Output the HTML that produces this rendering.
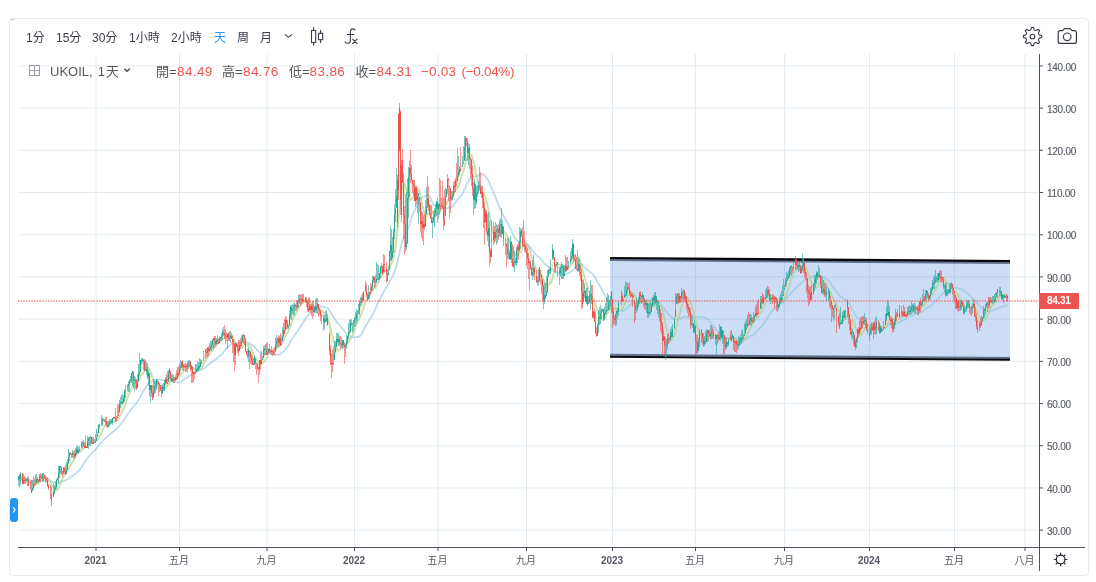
<!DOCTYPE html>
<html lang="zh-Hant"><head><meta charset="utf-8"><title>UKOIL</title>
<style>
html,body{margin:0;padding:0;background:#fff;}
body{width:1096px;height:582px;position:relative;overflow:hidden;font-family:"Liberation Sans","Noto Sans CJK TC",sans-serif;}
.frame{position:absolute;left:9px;top:18px;width:1078px;height:556px;border:1px solid #e8eaef;border-radius:4px;box-sizing:content-box;}
.chart{position:absolute;left:0;top:0;}
.txt{position:absolute;left:0;top:0;width:1096px;height:582px;will-change:transform;}
.tb{position:absolute;top:30px;height:16px;line-height:16px;font-size:12px;color:#3a3d48;white-space:nowrap;}
.tb.act{color:#2196f3;}
.lg{position:absolute;top:63px;height:18px;line-height:18px;font-size:13px;color:#555;white-space:nowrap;}
.lg.r{color:#ef5350;font-size:13.5px;letter-spacing:0.4px;}
.pl{position:absolute;left:1047px;width:40px;height:12px;line-height:12px;font-size:10px;letter-spacing:-0.25px;color:#585c66;-webkit-text-stroke:0.15px #585c66;}
.tl{position:absolute;top:554px;width:40px;height:13px;line-height:13px;text-align:center;font-size:10px;color:#555a64;}
.tl.b{font-weight:bold;}
.plab{position:absolute;left:1039px;top:293px;width:40px;height:15.5px;background:#ee5451;color:#fff;font-size:10px;letter-spacing:-0.3px;font-weight:bold;line-height:16px;}
.plab span{display:inline-block;margin-left:8px;}
.side{position:absolute;left:10px;top:498px;width:8px;height:24px;background:#2196f3;border-radius:3px;color:#fff;font-size:9px;line-height:23px;text-align:center;}
</style></head><body>
<div class="frame"></div>
<svg class="chart" width="1096" height="582" viewBox="0 0 1096 582"><path d="M18 530.15H1038M18 487.95H1038M18 445.75H1038M18 403.55H1038M18 361.35H1038M18 319.15H1038M18 276.95H1038M18 234.75H1038M18 192.55H1038M18 150.35H1038M18 108.15H1038M18 65.95H1038" stroke="#e1ecf2" stroke-width="1" fill="none"/><path d="M96.0 54V547M179.5 54V547M267.0 54V547M354.5 54V547M438.0 54V547M526.5 54V547M612.5 54V547M695.5 54V547M784.5 54V547M869.5 54V547M954.5 54V547M1025.0 54V547" stroke="#e1ecf2" stroke-width="1" fill="none"/><polygon points="610,258 1010,261.1 1010,359.9 610,356.8" fill="#3c78dc" fill-opacity="0.25"/><path d="M610 260.05L1010 263.15" stroke="#1c2a4a" stroke-opacity="0.6" stroke-width="1.8" fill="none"/><path d="M610 354.8L1010 357.9" stroke="#1c2a4a" stroke-opacity="0.6" stroke-width="2" fill="none"/><path d="M610 258.05L1010 261.15" stroke="#08080c" stroke-width="2.3" fill="none"/><path d="M610 356.75L1010 359.85" stroke="#08080c" stroke-width="2" fill="none"/><polyline points="18.5,480.5 19.5,480.2 20.5,479.7 21.5,479.3 22.5,479.1 23.5,479.1 24.5,479.2 25.5,479.3 26.5,479.4 27.5,479.6 28.5,479.8 29.5,480.1 30.5,480.5 31.5,480.9 32.5,481.2 33.5,481.3 34.5,481.2 35.5,481.1 36.5,481.0 37.5,480.8 38.5,480.7 39.5,480.5 40.5,480.4 41.5,480.3 42.5,480.2 43.5,480.1 44.5,480.0 45.5,480.0 46.5,479.9 47.5,480.0 48.5,480.2 49.5,480.4 50.5,480.8 51.5,481.3 52.5,481.8 53.5,482.1 54.5,482.4 55.5,482.7 56.5,482.8 57.5,482.9 58.5,482.8 59.5,482.6 60.5,482.3 61.5,481.9 62.5,481.5 63.5,481.1 64.5,480.6 65.5,480.2 66.5,479.9 67.5,479.4 68.5,478.8 69.5,478.1 70.5,477.4 71.5,476.6 72.5,475.9 73.5,475.2 74.5,474.5 75.5,473.7 76.5,472.8 77.5,471.9 78.5,470.9 79.5,469.8 80.5,468.6 81.5,467.3 82.5,465.8 83.5,464.2 84.5,462.6 85.5,461.1 86.5,459.7 87.5,458.3 88.5,457.0 89.5,455.7 90.5,454.6 91.5,453.6 92.5,452.6 93.5,451.6 94.5,450.6 95.5,449.5 96.5,448.4 97.5,447.1 98.5,445.9 99.5,444.6 100.5,443.4 101.5,442.3 102.5,441.2 103.5,440.2 104.5,439.2 105.5,438.2 106.5,437.2 107.5,436.3 108.5,435.4 109.5,434.6 110.5,433.8 111.5,432.9 112.5,432.2 113.5,431.4 114.5,430.6 115.5,429.8 116.5,428.9 117.5,427.9 118.5,426.9 119.5,425.7 120.5,424.5 121.5,423.2 122.5,421.9 123.5,420.6 124.5,419.1 125.5,417.6 126.5,416.1 127.5,414.6 128.5,413.1 129.5,411.6 130.5,410.2 131.5,408.9 132.5,407.6 133.5,406.3 134.5,405.1 135.5,404.0 136.5,402.8 137.5,401.6 138.5,400.0 139.5,398.3 140.5,396.4 141.5,394.6 142.5,392.8 143.5,391.0 144.5,389.3 145.5,387.5 146.5,385.9 147.5,384.5 148.5,383.3 149.5,382.4 150.5,381.8 151.5,381.4 152.5,381.0 153.5,380.6 154.5,380.2 155.5,379.8 156.5,379.5 157.5,379.4 158.5,379.3 159.5,379.4 160.5,379.5 161.5,379.7 162.5,379.9 163.5,380.2 164.5,380.4 165.5,380.4 166.5,380.3 167.5,380.1 168.5,379.9 169.5,379.6 170.5,379.7 171.5,380.1 172.5,380.6 173.5,381.0 174.5,381.5 175.5,381.8 176.5,382.1 177.5,382.3 178.5,382.4 179.5,382.3 180.5,382.0 181.5,381.4 182.5,380.7 183.5,379.8 184.5,379.1 185.5,378.4 186.5,377.8 187.5,377.2 188.5,376.5 189.5,375.9 190.5,375.2 191.5,374.7 192.5,374.1 193.5,373.7 194.5,373.2 195.5,372.6 196.5,372.0 197.5,371.5 198.5,371.1 199.5,370.7 200.5,370.2 201.5,369.7 202.5,369.1 203.5,368.4 204.5,367.7 205.5,366.9 206.5,366.1 207.5,365.4 208.5,364.6 209.5,363.9 210.5,363.1 211.5,362.4 212.5,361.8 213.5,361.1 214.5,360.4 215.5,359.6 216.5,358.8 217.5,358.0 218.5,357.1 219.5,356.2 220.5,355.3 221.5,354.3 222.5,353.3 223.5,352.1 224.5,350.8 225.5,349.5 226.5,348.5 227.5,347.6 228.5,346.7 229.5,345.8 230.5,344.9 231.5,344.1 232.5,343.6 233.5,343.4 234.5,343.4 235.5,343.4 236.5,343.4 237.5,343.3 238.5,343.1 239.5,342.9 240.5,342.6 241.5,342.4 242.5,342.2 243.5,341.9 244.5,341.8 245.5,341.8 246.5,342.1 247.5,342.4 248.5,342.9 249.5,343.5 250.5,344.1 251.5,344.7 252.5,345.4 253.5,346.1 254.5,346.9 255.5,347.9 256.5,349.1 257.5,350.2 258.5,351.2 259.5,352.1 260.5,352.8 261.5,353.4 262.5,353.9 263.5,354.4 264.5,354.5 265.5,354.5 266.5,354.2 267.5,354.0 268.5,353.8 269.5,353.7 270.5,353.8 271.5,353.9 272.5,354.2 273.5,354.4 274.5,354.7 275.5,354.9 276.5,354.9 277.5,354.8 278.5,354.5 279.5,354.2 280.5,353.7 281.5,353.0 282.5,352.2 283.5,351.4 284.5,350.4 285.5,349.2 286.5,348.0 287.5,346.6 288.5,345.2 289.5,343.5 290.5,341.7 291.5,339.9 292.5,338.3 293.5,336.9 294.5,335.4 295.5,334.0 296.5,332.6 297.5,331.2 298.5,329.7 299.5,328.2 300.5,326.7 301.5,325.2 302.5,323.6 303.5,322.0 304.5,320.4 305.5,318.9 306.5,317.4 307.5,316.2 308.5,315.0 309.5,313.8 310.5,312.7 311.5,311.7 312.5,310.8 313.5,309.9 314.5,309.1 315.5,308.3 316.5,307.7 317.5,307.2 318.5,306.8 319.5,306.5 320.5,306.3 321.5,306.3 322.5,306.5 323.5,306.8 324.5,307.2 325.5,307.4 326.5,307.7 327.5,308.1 328.5,309.0 329.5,310.2 330.5,311.9 331.5,313.8 332.5,315.6 333.5,317.3 334.5,318.9 335.5,320.3 336.5,321.6 337.5,322.8 338.5,324.0 339.5,325.2 340.5,326.4 341.5,327.6 342.5,328.8 343.5,329.9 344.5,331.2 345.5,332.5 346.5,333.6 347.5,334.5 348.5,335.3 349.5,335.9 350.5,336.4 351.5,336.7 352.5,337.1 353.5,337.3 354.5,337.4 355.5,337.3 356.5,337.1 357.5,337.0 358.5,336.9 359.5,336.4 360.5,335.5 361.5,334.2 362.5,332.5 363.5,330.4 364.5,328.3 365.5,326.3 366.5,324.4 367.5,322.8 368.5,321.3 369.5,319.9 370.5,318.2 371.5,316.5 372.5,314.6 373.5,312.7 374.5,310.8 375.5,308.7 376.5,306.4 377.5,303.9 378.5,301.8 379.5,299.8 380.5,297.9 381.5,296.2 382.5,294.3 383.5,292.4 384.5,290.5 385.5,288.6 386.5,287.0 387.5,285.5 388.5,283.9 389.5,282.2 390.5,280.3 391.5,278.3 392.5,276.3 393.5,274.3 394.5,271.9 395.5,268.8 396.5,265.5 397.5,261.8 398.5,257.7 399.5,253.0 400.5,248.2 401.5,243.9 402.5,240.7 403.5,238.2 404.5,236.1 405.5,234.1 406.5,232.0 407.5,229.8 408.5,227.4 409.5,224.6 410.5,221.5 411.5,218.4 412.5,215.4 413.5,212.8 414.5,210.6 415.5,208.5 416.5,206.5 417.5,204.6 418.5,202.7 419.5,200.8 420.5,199.3 421.5,198.3 422.5,197.6 423.5,197.1 424.5,196.5 425.5,195.9 426.5,195.1 427.5,195.0 428.5,195.3 429.5,196.3 430.5,197.9 431.5,200.1 432.5,202.7 433.5,204.7 434.5,205.7 435.5,206.0 436.5,206.0 437.5,205.7 438.5,205.4 439.5,205.1 440.5,204.9 441.5,205.3 442.5,205.9 443.5,207.0 444.5,207.9 445.5,208.4 446.5,208.4 447.5,208.2 448.5,207.9 449.5,207.7 450.5,207.5 451.5,206.9 452.5,206.2 453.5,205.1 454.5,203.8 455.5,202.4 456.5,200.9 457.5,199.4 458.5,198.3 459.5,197.5 460.5,196.4 461.5,195.0 462.5,193.4 463.5,191.5 464.5,189.3 465.5,187.0 466.5,184.9 467.5,182.9 468.5,181.0 469.5,179.3 470.5,178.0 471.5,177.2 472.5,176.8 473.5,176.8 474.5,176.8 475.5,176.6 476.5,176.2 477.5,175.7 478.5,175.3 479.5,175.0 480.5,174.7 481.5,174.3 482.5,174.2 483.5,174.7 484.5,175.6 485.5,176.7 486.5,177.8 487.5,179.2 488.5,180.9 489.5,183.0 490.5,185.5 491.5,187.7 492.5,190.0 493.5,192.3 494.5,194.7 495.5,197.1 496.5,199.7 497.5,202.4 498.5,205.0 499.5,207.4 500.5,209.8 501.5,211.8 502.5,213.9 503.5,215.9 504.5,217.8 505.5,219.5 506.5,221.2 507.5,222.9 508.5,224.7 509.5,226.7 510.5,228.7 511.5,230.9 512.5,233.2 513.5,235.4 514.5,237.3 515.5,238.9 516.5,239.9 517.5,240.8 518.5,241.5 519.5,242.0 520.5,242.3 521.5,242.4 522.5,242.2 523.5,242.1 524.5,242.4 525.5,242.9 526.5,243.7 527.5,244.5 528.5,245.5 529.5,246.7 530.5,248.0 531.5,249.3 532.5,250.6 533.5,252.0 534.5,253.2 535.5,254.3 536.5,255.2 537.5,256.1 538.5,256.9 539.5,257.7 540.5,258.5 541.5,259.6 542.5,260.9 543.5,262.3 544.5,263.5 545.5,264.6 546.5,265.4 547.5,266.1 548.5,266.7 549.5,267.2 550.5,267.8 551.5,268.5 552.5,269.0 553.5,269.7 554.5,270.5 555.5,271.5 556.5,272.3 557.5,272.9 558.5,273.4 559.5,273.9 560.5,274.1 561.5,274.1 562.5,274.0 563.5,274.1 564.5,274.0 565.5,273.9 566.5,273.7 567.5,273.5 568.5,273.1 569.5,272.6 570.5,272.0 571.5,271.3 572.5,270.4 573.5,269.5 574.5,268.4 575.5,267.3 576.5,266.3 577.5,265.4 578.5,264.7 579.5,264.2 580.5,264.1 581.5,264.5 582.5,265.3 583.5,266.2 584.5,267.2 585.5,268.2 586.5,269.2 587.5,270.1 588.5,271.0 589.5,271.7 590.5,272.4 591.5,273.1 592.5,273.9 593.5,275.2 594.5,276.6 595.5,278.2 596.5,280.0 597.5,282.0 598.5,283.8 599.5,285.5 600.5,287.2 601.5,289.0 602.5,290.8 603.5,292.7 604.5,294.7 605.5,296.4 606.5,297.9 607.5,299.3 608.5,300.5 609.5,301.8 610.5,303.1 611.5,304.2 612.5,305.4 613.5,306.5 614.5,307.3 615.5,308.3 616.5,309.1 617.5,309.8 618.5,310.2 619.5,310.5 620.5,310.7 621.5,310.9 622.5,310.9 623.5,310.8 624.5,310.4 625.5,309.7 626.5,308.8 627.5,307.8 628.5,306.6 629.5,305.4 630.5,304.5 631.5,303.9 632.5,303.4 633.5,303.0 634.5,302.8 635.5,302.7 636.5,302.5 637.5,302.4 638.5,302.2 639.5,302.1 640.5,302.0 641.5,301.8 642.5,301.7 643.5,301.6 644.5,301.5 645.5,301.1 646.5,300.7 647.5,300.3 648.5,300.1 649.5,300.0 650.5,300.0 651.5,300.0 652.5,300.1 653.5,300.2 654.5,300.4 655.5,300.6 656.5,301.0 657.5,301.6 658.5,302.2 659.5,303.0 660.5,303.9 661.5,305.1 662.5,306.5 663.5,307.9 664.5,309.3 665.5,310.7 666.5,311.9 667.5,312.9 668.5,313.9 669.5,314.9 670.5,315.9 671.5,317.0 672.5,318.0 673.5,318.9 674.5,319.5 675.5,319.7 676.5,319.5 677.5,319.3 678.5,319.1 679.5,318.7 680.5,318.3 681.5,317.8 682.5,317.4 683.5,317.1 684.5,316.8 685.5,316.7 686.5,316.8 687.5,317.0 688.5,317.2 689.5,317.4 690.5,317.6 691.5,317.9 692.5,317.9 693.5,317.9 694.5,317.6 695.5,317.4 696.5,317.3 697.5,317.2 698.5,317.0 699.5,316.9 700.5,316.9 701.5,316.8 702.5,317.0 703.5,317.2 704.5,317.5 705.5,317.8 706.5,318.4 707.5,319.2 708.5,320.4 709.5,321.5 710.5,322.6 711.5,323.7 712.5,324.8 713.5,326.0 714.5,327.3 715.5,328.7 716.5,330.2 717.5,331.5 718.5,332.7 719.5,333.6 720.5,334.3 721.5,335.0 722.5,335.7 723.5,336.3 724.5,337.0 725.5,337.6 726.5,338.1 727.5,338.3 728.5,338.2 729.5,338.0 730.5,337.8 731.5,337.7 732.5,337.8 733.5,338.0 734.5,338.2 735.5,338.4 736.5,338.7 737.5,339.0 738.5,339.1 739.5,339.3 740.5,339.4 741.5,339.4 742.5,339.4 743.5,339.4 744.5,339.4 745.5,339.1 746.5,338.8 747.5,338.3 748.5,337.5 749.5,336.7 750.5,336.1 751.5,335.6 752.5,335.2 753.5,334.7 754.5,334.0 755.5,333.0 756.5,332.0 757.5,330.9 758.5,329.7 759.5,328.6 760.5,327.4 761.5,326.3 762.5,325.1 763.5,323.9 764.5,322.5 765.5,321.0 766.5,319.3 767.5,317.7 768.5,316.0 769.5,314.3 770.5,313.0 771.5,311.7 772.5,310.5 773.5,309.4 774.5,308.4 775.5,307.5 776.5,306.8 777.5,306.1 778.5,305.5 779.5,304.9 780.5,304.3 781.5,303.6 782.5,302.7 783.5,301.7 784.5,300.6 785.5,299.4 786.5,298.2 787.5,297.1 788.5,296.0 789.5,294.9 790.5,293.8 791.5,292.7 792.5,291.7 793.5,290.6 794.5,289.5 795.5,288.4 796.5,287.4 797.5,286.5 798.5,285.7 799.5,284.9 800.5,284.1 801.5,283.3 802.5,282.1 803.5,281.1 804.5,280.1 805.5,279.3 806.5,278.7 807.5,278.4 808.5,278.1 809.5,277.8 810.5,277.4 811.5,277.1 812.5,276.8 813.5,276.5 814.5,276.3 815.5,276.0 816.5,275.8 817.5,275.7 818.5,275.5 819.5,275.4 820.5,275.6 821.5,275.9 822.5,276.4 823.5,276.9 824.5,277.6 825.5,278.4 826.5,279.3 827.5,280.2 828.5,281.2 829.5,282.2 830.5,283.3 831.5,284.7 832.5,286.1 833.5,287.6 834.5,289.2 835.5,290.6 836.5,292.0 837.5,293.4 838.5,294.7 839.5,295.6 840.5,296.3 841.5,296.9 842.5,297.6 843.5,298.3 844.5,299.1 845.5,300.0 846.5,301.0 847.5,301.9 848.5,303.1 849.5,304.6 850.5,306.2 851.5,308.0 852.5,309.8 853.5,311.5 854.5,313.2 855.5,314.9 856.5,316.4 857.5,317.9 858.5,319.1 859.5,320.2 860.5,321.1 861.5,321.9 862.5,322.5 863.5,322.9 864.5,323.1 865.5,323.3 866.5,323.7 867.5,324.2 868.5,324.6 869.5,324.9 870.5,325.2 871.5,325.5 872.5,325.9 873.5,326.3 874.5,326.7 875.5,327.1 876.5,327.3 877.5,327.6 878.5,328.1 879.5,328.7 880.5,329.0 881.5,329.2 882.5,329.1 883.5,328.8 884.5,328.3 885.5,327.7 886.5,326.8 887.5,325.9 888.5,324.9 889.5,324.2 890.5,323.7 891.5,323.6 892.5,323.6 893.5,323.6 894.5,323.6 895.5,323.5 896.5,323.3 897.5,323.1 898.5,322.7 899.5,322.3 900.5,321.7 901.5,321.1 902.5,320.4 903.5,319.8 904.5,319.3 905.5,318.7 906.5,318.2 907.5,317.7 908.5,317.2 909.5,316.8 910.5,316.2 911.5,315.6 912.5,315.0 913.5,314.4 914.5,313.9 915.5,313.5 916.5,313.1 917.5,312.9 918.5,312.8 919.5,312.7 920.5,312.6 921.5,312.2 922.5,311.6 923.5,310.8 924.5,309.9 925.5,308.9 926.5,308.1 927.5,307.4 928.5,306.9 929.5,306.3 930.5,305.7 931.5,305.0 932.5,304.2 933.5,303.4 934.5,302.4 935.5,301.4 936.5,300.3 937.5,299.2 938.5,298.1 939.5,297.0 940.5,295.9 941.5,294.9 942.5,293.9 943.5,293.1 944.5,292.4 945.5,291.8 946.5,291.2 947.5,290.6 948.5,290.0 949.5,289.4 950.5,288.7 951.5,288.0 952.5,287.6 953.5,287.4 954.5,287.4 955.5,287.5 956.5,287.8 957.5,288.1 958.5,288.5 959.5,288.8 960.5,289.1 961.5,289.4 962.5,289.8 963.5,290.4 964.5,291.1 965.5,291.8 966.5,292.6 967.5,293.4 968.5,294.4 969.5,295.4 970.5,296.4 971.5,297.5 972.5,298.5 973.5,299.4 974.5,300.3 975.5,301.3 976.5,302.4 977.5,303.6 978.5,304.7 979.5,305.9 980.5,306.9 981.5,307.8 982.5,308.7 983.5,309.5 984.5,310.2 985.5,310.6 986.5,310.9 987.5,311.0 988.5,311.0 989.5,310.9 990.5,310.8 991.5,310.6 992.5,310.4 993.5,310.2 994.5,309.9 995.5,309.6 996.5,309.2 997.5,308.7 998.5,308.3 999.5,307.9 1000.5,307.4 1001.5,307.0 1002.5,306.6 1003.5,306.2 1004.5,305.8 1005.5,305.6 1006.5,305.3 1007.5,304.8" fill="none" stroke="#8cc3dc" stroke-width="1.8" stroke-linejoin="round" stroke-opacity="0.58"/><polyline points="18.5,478.3 19.5,478.9 20.5,478.1 21.5,477.3 22.5,478.1 23.5,478.4 24.5,478.7 25.5,478.9 26.5,479.0 27.5,479.2 28.5,479.8 29.5,480.3 30.5,481.4 31.5,482.9 32.5,483.4 33.5,483.8 34.5,484.1 35.5,484.2 36.5,484.0 37.5,483.8 38.5,483.3 39.5,482.4 40.5,481.5 41.5,480.3 42.5,479.2 43.5,478.4 44.5,477.9 45.5,477.7 46.5,477.8 47.5,478.3 48.5,479.1 49.5,480.6 50.5,482.2 51.5,484.3 52.5,486.4 53.5,487.9 54.5,489.0 55.5,489.8 56.5,490.0 57.5,489.7 58.5,488.5 59.5,486.3 60.5,483.9 61.5,481.3 62.5,478.8 63.5,476.7 64.5,474.9 65.5,473.4 66.5,472.1 67.5,470.4 68.5,468.7 69.5,467.1 70.5,465.6 71.5,463.8 72.5,461.9 73.5,460.3 74.5,458.8 75.5,456.9 76.5,454.9 77.5,453.7 78.5,452.9 79.5,452.4 80.5,451.6 81.5,450.7 82.5,449.7 83.5,448.8 84.5,447.8 85.5,447.0 86.5,446.5 87.5,445.6 88.5,444.7 89.5,443.8 90.5,443.0 91.5,442.7 92.5,442.6 93.5,442.2 94.5,441.7 95.5,441.3 96.5,440.4 97.5,439.6 98.5,438.0 99.5,436.5 100.5,435.0 101.5,433.0 102.5,430.7 103.5,428.6 104.5,426.7 105.5,424.8 106.5,423.6 107.5,422.8 108.5,422.5 109.5,422.3 110.5,422.1 111.5,422.2 112.5,422.2 113.5,422.1 114.5,421.8 115.5,421.5 116.5,420.9 117.5,419.8 118.5,418.7 119.5,416.9 120.5,415.0 121.5,413.1 122.5,411.2 123.5,409.1 124.5,406.5 125.5,403.8 126.5,400.9 127.5,398.2 128.5,395.5 129.5,393.3 130.5,391.1 131.5,388.6 132.5,386.0 133.5,384.3 134.5,383.1 135.5,382.1 136.5,381.9 137.5,381.4 138.5,380.2 139.5,378.9 140.5,376.9 141.5,375.5 142.5,374.2 143.5,372.5 144.5,371.1 145.5,369.7 146.5,367.9 147.5,367.1 148.5,367.2 149.5,369.0 150.5,371.5 151.5,374.5 152.5,377.7 153.5,380.4 154.5,382.3 155.5,384.2 156.5,385.6 157.5,386.7 158.5,387.9 159.5,387.9 160.5,388.3 161.5,388.2 162.5,387.6 163.5,387.5 164.5,387.2 165.5,386.5 166.5,386.3 167.5,385.9 168.5,384.7 169.5,383.1 170.5,381.8 171.5,380.6 172.5,379.7 173.5,378.8 174.5,378.3 175.5,378.0 176.5,377.6 177.5,376.8 178.5,376.6 179.5,376.3 180.5,375.2 181.5,373.6 182.5,372.2 183.5,370.9 184.5,369.6 185.5,368.6 186.5,367.5 187.5,366.8 188.5,366.1 189.5,365.6 190.5,365.8 191.5,366.4 192.5,367.2 193.5,368.1 194.5,368.7 195.5,369.2 196.5,369.3 197.5,369.6 198.5,369.7 199.5,369.8 200.5,369.1 201.5,368.3 202.5,366.3 203.5,364.3 204.5,362.2 205.5,360.4 206.5,358.9 207.5,357.1 208.5,355.6 209.5,353.9 210.5,352.5 211.5,350.9 212.5,349.7 213.5,348.4 214.5,347.3 215.5,346.2 216.5,344.9 217.5,344.1 218.5,343.1 219.5,342.1 220.5,341.2 221.5,340.2 222.5,339.3 223.5,338.6 224.5,337.8 225.5,337.2 226.5,337.1 227.5,336.7 228.5,336.5 229.5,336.4 230.5,336.3 231.5,336.5 232.5,337.5 233.5,338.9 234.5,341.1 235.5,342.4 236.5,343.6 237.5,344.8 238.5,345.9 239.5,346.6 240.5,347.4 241.5,347.7 242.5,347.1 243.5,346.0 244.5,344.4 245.5,344.3 246.5,344.5 247.5,344.8 248.5,345.0 249.5,346.1 250.5,347.5 251.5,349.4 252.5,351.8 253.5,354.3 254.5,356.2 255.5,357.8 256.5,359.2 257.5,360.8 258.5,362.8 259.5,363.7 260.5,364.1 261.5,363.9 262.5,363.4 263.5,362.3 264.5,361.4 265.5,360.0 266.5,358.6 267.5,356.8 268.5,354.5 269.5,353.0 270.5,351.9 271.5,351.1 272.5,350.6 273.5,350.7 274.5,350.8 275.5,350.2 276.5,349.1 277.5,348.0 278.5,347.3 279.5,346.3 280.5,345.4 281.5,344.4 282.5,342.9 283.5,340.7 284.5,338.6 285.5,336.3 286.5,334.4 287.5,332.9 288.5,331.1 289.5,328.9 290.5,325.7 291.5,322.8 292.5,320.2 293.5,318.1 294.5,315.8 295.5,314.3 296.5,312.6 297.5,310.5 298.5,308.2 299.5,306.5 300.5,305.4 301.5,304.2 302.5,303.2 303.5,302.3 304.5,301.4 305.5,300.8 306.5,300.3 307.5,300.6 308.5,301.3 309.5,301.8 310.5,302.6 311.5,303.3 312.5,304.3 313.5,305.4 314.5,306.2 315.5,307.0 316.5,307.4 317.5,307.3 318.5,307.5 319.5,308.3 320.5,309.0 321.5,310.0 322.5,311.0 323.5,312.1 324.5,313.5 325.5,314.7 326.5,315.8 327.5,317.6 328.5,320.0 329.5,323.5 330.5,327.9 331.5,332.4 332.5,336.7 333.5,340.3 334.5,343.4 335.5,346.0 336.5,348.3 337.5,350.1 338.5,350.7 339.5,350.2 340.5,348.6 341.5,346.7 342.5,344.7 343.5,343.4 344.5,343.1 345.5,343.3 346.5,343.4 347.5,343.0 348.5,342.1 349.5,340.9 350.5,339.0 351.5,337.1 352.5,335.4 353.5,333.2 354.5,330.4 355.5,327.5 356.5,324.9 357.5,322.7 358.5,320.6 359.5,318.2 360.5,316.0 361.5,313.6 362.5,311.0 363.5,308.1 364.5,305.0 365.5,302.1 366.5,299.8 367.5,298.1 368.5,296.3 369.5,295.1 370.5,293.9 371.5,292.5 372.5,290.7 373.5,289.2 374.5,288.4 375.5,287.5 376.5,285.9 377.5,283.9 378.5,282.0 379.5,280.0 380.5,277.9 381.5,276.0 382.5,274.9 383.5,273.4 384.5,271.7 385.5,270.4 386.5,270.0 387.5,270.1 388.5,269.5 389.5,267.7 390.5,265.5 391.5,263.9 392.5,261.6 393.5,258.5 394.5,254.0 395.5,247.6 396.5,239.4 397.5,229.3 398.5,219.9 399.5,206.9 400.5,199.1 401.5,192.4 402.5,186.2 403.5,183.8 404.5,183.7 405.5,186.7 406.5,190.6 407.5,193.4 408.5,194.7 409.5,199.7 410.5,200.2 411.5,199.2 412.5,198.9 413.5,196.5 414.5,194.4 415.5,190.4 416.5,187.5 417.5,187.2 418.5,188.5 419.5,191.6 420.5,196.3 421.5,201.0 422.5,205.7 423.5,209.7 424.5,212.4 425.5,214.5 426.5,214.9 427.5,214.3 428.5,214.4 429.5,214.6 430.5,213.8 431.5,213.4 432.5,212.7 433.5,212.1 434.5,211.1 435.5,210.9 436.5,211.3 437.5,212.6 438.5,213.0 439.5,212.4 440.5,211.2 441.5,209.4 442.5,207.5 443.5,206.7 444.5,206.9 445.5,205.6 446.5,204.1 447.5,201.6 448.5,199.7 449.5,198.8 450.5,198.6 451.5,198.3 452.5,197.6 453.5,195.1 454.5,192.1 455.5,190.4 456.5,189.1 457.5,187.7 458.5,186.0 459.5,183.4 460.5,180.1 461.5,176.7 462.5,173.4 463.5,170.5 464.5,166.7 465.5,162.9 466.5,159.6 467.5,157.6 468.5,155.7 469.5,154.8 470.5,154.4 471.5,155.4 472.5,157.8 473.5,161.5 474.5,165.5 475.5,171.2 476.5,176.0 477.5,179.7 478.5,183.2 479.5,185.7 480.5,188.3 481.5,189.9 482.5,191.2 483.5,192.4 484.5,195.8 485.5,197.6 486.5,201.0 487.5,205.2 488.5,209.6 489.5,215.6 490.5,221.8 491.5,227.1 492.5,231.0 493.5,233.4 494.5,234.7 495.5,236.1 496.5,236.6 497.5,236.6 498.5,237.0 499.5,235.4 500.5,233.0 501.5,231.5 502.5,230.6 503.5,231.1 504.5,231.9 505.5,233.2 506.5,234.9 507.5,237.0 508.5,239.0 509.5,241.8 510.5,243.8 511.5,246.4 512.5,249.6 513.5,251.9 514.5,253.7 515.5,255.2 516.5,255.6 517.5,255.2 518.5,254.8 519.5,253.5 520.5,252.5 521.5,250.7 522.5,248.8 523.5,246.8 524.5,245.1 525.5,244.1 526.5,244.2 527.5,245.1 528.5,246.7 529.5,249.2 530.5,252.7 531.5,256.3 532.5,259.2 533.5,262.1 534.5,264.8 535.5,267.1 536.5,269.5 537.5,271.5 538.5,272.9 539.5,273.4 540.5,273.8 541.5,274.6 542.5,276.3 543.5,279.4 544.5,281.6 545.5,283.7 546.5,284.8 547.5,284.9 548.5,284.3 549.5,284.2 550.5,283.5 551.5,281.5 552.5,277.9 553.5,273.9 554.5,271.0 555.5,268.0 556.5,265.7 557.5,264.4 558.5,264.3 559.5,264.6 560.5,265.0 561.5,265.9 562.5,267.4 563.5,269.0 564.5,269.6 565.5,269.6 566.5,269.8 567.5,269.7 568.5,268.9 569.5,267.5 570.5,266.2 571.5,264.8 572.5,262.6 573.5,260.8 574.5,259.5 575.5,259.5 576.5,259.3 577.5,259.4 578.5,259.4 579.5,260.3 580.5,261.8 581.5,264.9 582.5,270.1 583.5,273.7 584.5,276.9 585.5,280.2 586.5,283.2 587.5,286.6 588.5,290.1 589.5,292.5 590.5,294.7 591.5,295.8 592.5,296.9 593.5,298.9 594.5,301.9 595.5,305.0 596.5,308.6 597.5,311.1 598.5,313.2 599.5,315.6 600.5,317.6 601.5,319.1 602.5,319.4 603.5,320.0 604.5,319.3 605.5,317.5 606.5,315.1 607.5,313.2 608.5,311.5 609.5,309.8 610.5,308.4 611.5,306.9 612.5,306.6 613.5,306.8 614.5,307.4 615.5,308.1 616.5,308.8 617.5,309.4 618.5,309.8 619.5,310.0 620.5,310.0 621.5,310.0 622.5,308.7 623.5,306.6 624.5,303.9 625.5,301.4 626.5,299.0 627.5,296.5 628.5,294.8 629.5,293.6 630.5,293.0 631.5,292.9 632.5,292.9 633.5,293.2 634.5,294.7 635.5,296.4 636.5,298.2 637.5,299.9 638.5,301.1 639.5,301.4 640.5,301.6 641.5,301.8 642.5,301.7 643.5,301.7 644.5,301.1 645.5,300.6 646.5,300.4 647.5,301.0 648.5,302.1 649.5,303.7 650.5,305.1 651.5,305.9 652.5,306.3 653.5,306.4 654.5,305.9 655.5,305.5 656.5,305.0 657.5,304.3 658.5,303.8 659.5,304.0 660.5,305.1 661.5,307.2 662.5,310.9 663.5,314.7 664.5,319.4 665.5,324.1 666.5,328.7 667.5,332.3 668.5,335.6 669.5,338.1 670.5,339.3 671.5,340.1 672.5,339.2 673.5,338.0 674.5,335.5 675.5,331.8 676.5,326.9 677.5,322.5 678.5,318.5 679.5,314.4 680.5,310.9 681.5,306.8 682.5,303.2 683.5,299.7 684.5,297.5 685.5,296.3 686.5,296.9 687.5,298.0 688.5,298.9 689.5,300.5 690.5,302.8 691.5,305.7 692.5,308.7 693.5,312.3 694.5,315.2 695.5,319.2 696.5,323.1 697.5,327.2 698.5,330.7 699.5,332.9 700.5,334.2 701.5,335.4 702.5,336.9 703.5,338.2 704.5,339.5 705.5,339.6 706.5,338.9 707.5,337.3 708.5,336.5 709.5,336.6 710.5,336.7 711.5,336.4 712.5,335.8 713.5,335.1 714.5,334.7 715.5,334.6 716.5,335.1 717.5,335.8 718.5,336.2 719.5,336.2 720.5,335.8 721.5,336.2 722.5,336.3 723.5,336.5 724.5,337.4 725.5,338.0 726.5,338.4 727.5,338.6 728.5,338.7 729.5,338.7 730.5,339.6 731.5,339.7 732.5,340.0 733.5,340.7 734.5,340.7 735.5,340.4 736.5,340.7 737.5,341.1 738.5,341.5 739.5,341.8 740.5,341.8 741.5,341.9 742.5,341.8 743.5,341.0 744.5,339.8 745.5,338.1 746.5,336.0 747.5,333.7 748.5,331.6 749.5,329.6 750.5,327.7 751.5,325.9 752.5,324.3 753.5,322.7 754.5,321.1 755.5,319.8 756.5,318.6 757.5,317.3 758.5,316.1 759.5,314.7 760.5,313.1 761.5,311.0 762.5,309.0 763.5,306.9 764.5,305.1 765.5,303.4 766.5,301.5 767.5,299.5 768.5,297.8 769.5,296.9 770.5,296.5 771.5,296.4 772.5,296.3 773.5,296.5 774.5,296.9 775.5,297.3 776.5,298.2 777.5,299.7 778.5,300.9 779.5,301.4 780.5,301.4 781.5,301.4 782.5,300.9 783.5,300.1 784.5,298.6 785.5,296.7 786.5,294.3 787.5,291.4 788.5,288.5 789.5,285.4 790.5,282.3 791.5,279.3 792.5,276.6 793.5,274.1 794.5,272.0 795.5,270.1 796.5,268.7 797.5,267.6 798.5,266.6 799.5,266.2 800.5,266.4 801.5,266.3 802.5,265.8 803.5,265.5 804.5,266.1 805.5,267.4 806.5,269.0 807.5,271.4 808.5,274.2 809.5,277.0 810.5,279.6 811.5,282.1 812.5,284.9 813.5,287.3 814.5,288.5 815.5,288.8 816.5,288.3 817.5,286.7 818.5,284.8 819.5,282.8 820.5,281.3 821.5,280.9 822.5,280.5 823.5,280.7 824.5,281.6 825.5,283.0 826.5,284.7 827.5,286.5 828.5,288.5 829.5,290.8 830.5,292.7 831.5,294.7 832.5,296.9 833.5,299.2 834.5,301.0 835.5,302.5 836.5,304.7 837.5,307.3 838.5,310.2 839.5,312.9 840.5,314.8 841.5,316.0 842.5,316.5 843.5,317.1 844.5,317.5 845.5,318.1 846.5,317.7 847.5,316.3 848.5,315.5 849.5,315.1 850.5,316.2 851.5,317.4 852.5,319.1 853.5,321.1 854.5,324.1 855.5,326.9 856.5,329.8 857.5,332.6 858.5,334.5 859.5,335.2 860.5,334.9 861.5,334.0 862.5,332.8 863.5,331.3 864.5,328.9 865.5,326.9 866.5,325.6 867.5,325.3 868.5,325.3 869.5,325.7 870.5,326.0 871.5,326.6 872.5,327.3 873.5,327.8 874.5,328.8 875.5,329.3 876.5,329.0 877.5,328.4 878.5,327.6 879.5,327.5 880.5,327.1 881.5,327.2 882.5,327.0 883.5,326.8 884.5,326.3 885.5,325.5 886.5,324.4 887.5,323.3 888.5,321.9 889.5,320.5 890.5,319.6 891.5,318.8 892.5,318.8 893.5,318.8 894.5,318.6 895.5,318.4 896.5,318.7 897.5,318.8 898.5,319.2 899.5,318.8 900.5,318.0 901.5,317.2 902.5,315.7 903.5,314.4 904.5,313.6 905.5,313.3 906.5,313.2 907.5,313.0 908.5,312.5 909.5,312.3 910.5,312.2 911.5,311.8 912.5,311.2 913.5,310.9 914.5,310.3 915.5,309.7 916.5,309.2 917.5,309.0 918.5,309.0 919.5,308.3 920.5,307.9 921.5,307.4 922.5,306.7 923.5,305.5 924.5,304.5 925.5,303.2 926.5,301.6 927.5,300.2 928.5,298.8 929.5,297.9 930.5,296.7 931.5,295.4 932.5,293.9 933.5,292.5 934.5,290.9 935.5,289.3 936.5,287.7 937.5,286.0 938.5,283.8 939.5,281.8 940.5,280.2 941.5,279.0 942.5,278.5 943.5,278.6 944.5,279.0 945.5,280.3 946.5,281.7 947.5,283.0 948.5,284.5 949.5,285.9 950.5,286.9 951.5,287.8 952.5,288.7 953.5,289.5 954.5,290.6 955.5,291.4 956.5,292.8 957.5,294.1 958.5,295.7 959.5,297.4 960.5,299.1 961.5,300.9 962.5,302.7 963.5,304.4 964.5,305.7 965.5,306.5 966.5,306.5 967.5,306.5 968.5,306.2 969.5,306.3 970.5,306.9 971.5,307.4 972.5,307.5 973.5,306.9 974.5,307.3 975.5,308.1 976.5,309.9 977.5,312.2 978.5,314.5 979.5,316.2 980.5,317.6 981.5,318.7 982.5,319.6 983.5,320.4 984.5,320.2 985.5,319.4 986.5,317.5 987.5,315.3 988.5,313.0 989.5,310.6 990.5,308.4 991.5,306.5 992.5,304.8 993.5,303.6 994.5,302.5 995.5,301.4 996.5,300.4 997.5,299.1 998.5,297.8 999.5,296.9 1000.5,295.9 1001.5,295.4 1002.5,295.1 1003.5,294.8 1004.5,294.6 1005.5,294.7 1006.5,295.1 1007.5,295.6" fill="none" stroke="#a9d38f" stroke-width="1.8" stroke-linejoin="round" stroke-opacity="0.7"/><polyline points="18.5,478.3 19.5,478.9 20.5,478.1 21.5,477.3 22.5,478.1 23.5,478.4 24.5,478.6 25.5,479.3 26.5,480.3 27.5,480.4 28.5,481.1 29.5,482.1 30.5,483.5 31.5,485.4 32.5,486.5 33.5,486.5 34.5,486.0 35.5,484.9 36.5,482.6 37.5,481.1 38.5,480.1 39.5,478.9 40.5,478.1 41.5,478.0 42.5,477.4 43.5,476.7 44.5,477.0 45.5,477.3 46.5,477.6 47.5,479.3 48.5,481.5 49.5,484.2 50.5,487.1 51.5,490.9 52.5,493.5 53.5,494.4 54.5,493.9 55.5,492.5 56.5,489.2 57.5,485.8 58.5,482.6 59.5,478.8 60.5,475.4 61.5,473.4 62.5,471.8 63.5,470.8 64.5,471.0 65.5,471.5 66.5,470.8 67.5,469.1 68.5,466.6 69.5,463.2 70.5,459.6 71.5,456.8 72.5,454.7 73.5,454.1 74.5,454.4 75.5,454.1 76.5,453.1 77.5,452.6 78.5,451.7 79.5,450.4 80.5,449.2 81.5,448.3 82.5,446.8 83.5,445.9 84.5,445.2 85.5,444.8 86.5,444.7 87.5,444.3 88.5,443.5 89.5,442.4 90.5,441.3 91.5,440.7 92.5,440.9 93.5,440.9 94.5,441.0 95.5,441.3 96.5,440.2 97.5,438.3 98.5,435.2 99.5,432.1 100.5,428.6 101.5,425.7 102.5,423.1 103.5,422.0 104.5,421.3 105.5,421.1 106.5,421.5 107.5,422.5 108.5,423.1 109.5,423.3 110.5,423.2 111.5,422.8 112.5,421.8 113.5,421.0 114.5,420.3 115.5,419.8 116.5,418.9 117.5,417.8 118.5,416.4 119.5,413.5 120.5,410.3 121.5,407.2 122.5,404.6 123.5,401.8 124.5,399.5 125.5,397.2 126.5,394.5 127.5,391.7 128.5,389.2 129.5,387.1 130.5,385.0 131.5,382.7 132.5,380.3 133.5,379.4 134.5,379.0 135.5,379.2 136.5,381.1 137.5,382.5 138.5,381.1 139.5,378.8 140.5,374.7 141.5,369.9 142.5,365.9 143.5,363.9 144.5,363.5 145.5,364.8 146.5,366.0 147.5,368.3 148.5,370.6 149.5,374.6 150.5,378.3 151.5,383.0 152.5,387.1 153.5,390.1 154.5,390.1 155.5,390.1 156.5,388.2 157.5,386.3 158.5,385.6 159.5,385.7 160.5,386.4 161.5,388.2 162.5,388.9 163.5,389.3 164.5,388.6 165.5,386.6 166.5,384.5 167.5,382.9 168.5,380.1 169.5,377.6 170.5,377.0 171.5,376.8 172.5,376.5 173.5,377.4 174.5,378.9 175.5,378.9 176.5,378.5 177.5,377.1 178.5,375.8 179.5,373.6 180.5,371.5 181.5,368.6 182.5,367.3 183.5,366.1 184.5,365.7 185.5,365.7 186.5,366.4 187.5,366.3 188.5,366.1 189.5,365.6 190.5,366.0 191.5,366.4 192.5,368.2 193.5,370.1 194.5,371.9 195.5,372.4 196.5,372.2 197.5,371.0 198.5,369.2 199.5,367.7 200.5,365.8 201.5,364.4 202.5,361.7 203.5,359.3 204.5,356.7 205.5,355.1 206.5,353.5 207.5,352.5 208.5,351.9 209.5,351.1 210.5,349.9 211.5,348.4 212.5,346.9 213.5,345.0 214.5,343.5 215.5,342.5 216.5,341.5 217.5,341.2 218.5,341.2 219.5,340.7 220.5,339.8 221.5,338.9 222.5,337.5 223.5,335.9 224.5,334.9 225.5,334.7 226.5,335.2 227.5,336.0 228.5,337.2 229.5,338.0 230.5,338.0 231.5,337.9 232.5,339.1 233.5,340.5 234.5,344.1 235.5,346.8 236.5,349.3 237.5,350.6 238.5,351.2 239.5,349.0 240.5,347.9 241.5,346.1 242.5,343.6 243.5,340.9 244.5,339.9 245.5,340.6 246.5,342.9 247.5,346.1 248.5,349.2 249.5,352.4 250.5,354.5 251.5,355.9 252.5,357.5 253.5,359.4 254.5,360.1 255.5,361.2 256.5,362.6 257.5,364.1 258.5,366.2 259.5,367.3 260.5,366.9 261.5,365.3 262.5,362.6 263.5,358.5 264.5,355.6 265.5,353.2 266.5,352.0 267.5,351.0 268.5,350.5 269.5,350.4 270.5,350.6 271.5,350.3 272.5,350.3 273.5,350.9 274.5,351.2 275.5,349.8 276.5,347.9 277.5,345.6 278.5,343.7 279.5,341.3 280.5,340.9 281.5,341.0 282.5,340.1 283.5,337.7 284.5,335.8 285.5,331.6 286.5,327.9 287.5,325.8 288.5,324.5 289.5,321.9 290.5,319.9 291.5,317.7 292.5,314.7 293.5,311.7 294.5,309.7 295.5,308.7 296.5,307.6 297.5,306.3 298.5,304.8 299.5,303.4 300.5,302.1 301.5,300.7 302.5,300.1 303.5,299.8 304.5,299.4 305.5,299.4 306.5,299.9 307.5,301.1 308.5,302.7 309.5,304.1 310.5,305.7 311.5,306.8 312.5,307.6 313.5,308.1 314.5,308.4 315.5,308.3 316.5,308.1 317.5,307.0 318.5,307.0 319.5,308.2 320.5,309.7 321.5,312.0 322.5,314.9 323.5,317.3 324.5,318.9 325.5,319.7 326.5,319.6 327.5,320.3 328.5,322.6 329.5,328.0 330.5,336.1 331.5,345.1 332.5,353.0 333.5,358.0 334.5,358.7 335.5,356.0 336.5,351.5 337.5,347.2 338.5,343.4 339.5,341.6 340.5,341.1 341.5,342.0 342.5,342.2 343.5,343.3 344.5,344.6 345.5,345.5 346.5,344.9 347.5,343.7 348.5,341.0 349.5,337.2 350.5,332.6 351.5,329.3 352.5,327.0 353.5,325.4 354.5,323.5 355.5,322.5 356.5,320.6 357.5,318.3 358.5,315.9 359.5,312.8 360.5,309.6 361.5,306.5 362.5,303.7 363.5,300.3 364.5,297.2 365.5,294.7 366.5,293.2 367.5,292.4 368.5,292.4 369.5,293.0 370.5,293.1 371.5,291.9 372.5,289.1 373.5,286.1 374.5,283.9 375.5,281.8 376.5,280.0 377.5,278.8 378.5,277.8 379.5,276.2 380.5,273.9 381.5,272.1 382.5,271.1 383.5,268.9 384.5,267.2 385.5,266.8 386.5,267.8 387.5,269.1 388.5,270.1 389.5,268.2 390.5,264.2 391.5,260.0 392.5,254.1 393.5,246.9 394.5,239.9 395.5,231.1 396.5,218.8 397.5,204.6 398.5,192.8 399.5,173.9 400.5,167.1 401.5,166.1 402.5,167.8 403.5,174.8 404.5,193.5 405.5,206.3 406.5,215.1 407.5,219.0 408.5,214.6 409.5,206.0 410.5,194.0 411.5,183.4 412.5,178.8 413.5,178.4 414.5,182.9 415.5,186.7 416.5,191.5 417.5,195.5 418.5,198.6 419.5,200.3 420.5,205.9 421.5,210.5 422.5,215.9 423.5,220.8 424.5,224.5 425.5,223.2 426.5,219.2 427.5,212.8 428.5,207.9 429.5,204.6 430.5,204.5 431.5,207.5 432.5,212.5 433.5,216.2 434.5,217.5 435.5,217.2 436.5,215.0 437.5,212.7 438.5,209.7 439.5,207.3 440.5,205.3 441.5,203.7 442.5,202.2 443.5,203.7 444.5,206.4 445.5,205.9 446.5,204.4 447.5,201.0 448.5,195.7 449.5,191.1 450.5,191.2 451.5,192.2 452.5,194.1 453.5,194.5 454.5,193.2 455.5,189.6 456.5,186.0 457.5,181.4 458.5,177.5 459.5,173.6 460.5,170.6 461.5,167.5 462.5,165.4 463.5,163.6 464.5,159.8 465.5,155.2 466.5,151.6 467.5,149.8 468.5,147.8 469.5,149.8 470.5,153.6 471.5,159.2 472.5,165.9 473.5,175.1 474.5,181.3 475.5,188.8 476.5,192.8 477.5,193.5 478.5,191.3 479.5,190.2 480.5,187.8 481.5,187.0 482.5,188.8 483.5,193.6 484.5,201.3 485.5,207.4 486.5,214.9 487.5,221.5 488.5,225.7 489.5,229.9 490.5,236.1 491.5,239.4 492.5,240.4 493.5,241.2 494.5,239.5 495.5,236.1 496.5,233.8 497.5,232.8 498.5,232.8 499.5,231.3 500.5,229.8 501.5,229.1 502.5,228.4 503.5,229.5 504.5,232.5 505.5,236.6 506.5,240.7 507.5,245.7 508.5,248.6 509.5,251.0 510.5,250.9 511.5,252.2 512.5,253.6 513.5,255.1 514.5,256.3 515.5,259.4 516.5,259.0 517.5,256.8 518.5,254.5 519.5,250.8 520.5,245.6 521.5,242.4 522.5,240.8 523.5,239.0 524.5,239.5 525.5,242.6 526.5,246.0 527.5,249.5 528.5,254.3 529.5,258.8 530.5,262.8 531.5,266.7 532.5,269.0 533.5,269.8 534.5,270.8 535.5,271.4 536.5,272.3 537.5,273.9 538.5,276.0 539.5,276.0 540.5,276.2 541.5,276.8 542.5,278.7 543.5,282.8 544.5,287.3 545.5,291.2 546.5,292.8 547.5,291.0 548.5,285.9 549.5,281.1 550.5,275.8 551.5,270.1 552.5,264.8 553.5,262.0 554.5,260.8 555.5,260.3 556.5,261.3 557.5,264.0 558.5,266.5 559.5,268.4 560.5,269.6 561.5,270.4 562.5,270.9 563.5,271.4 564.5,270.9 565.5,269.6 566.5,269.1 567.5,268.4 568.5,266.3 569.5,264.1 570.5,262.8 571.5,260.4 572.5,256.8 573.5,255.2 574.5,254.8 575.5,256.1 576.5,258.1 577.5,262.0 578.5,263.6 579.5,265.9 580.5,267.6 581.5,271.8 582.5,278.2 583.5,283.7 584.5,287.9 585.5,292.8 586.5,294.6 587.5,295.0 588.5,296.4 589.5,297.1 590.5,296.6 591.5,297.1 592.5,298.9 593.5,301.5 594.5,306.7 595.5,313.3 596.5,320.0 597.5,323.3 598.5,324.9 599.5,324.6 600.5,321.8 601.5,318.2 602.5,315.6 603.5,315.1 604.5,314.0 605.5,313.2 606.5,312.1 607.5,310.8 608.5,307.8 609.5,305.6 610.5,303.7 611.5,301.6 612.5,302.5 613.5,305.7 614.5,309.3 615.5,312.6 616.5,316.0 617.5,316.4 618.5,313.8 619.5,310.8 620.5,307.5 621.5,304.0 622.5,301.1 623.5,299.3 624.5,297.0 625.5,295.4 626.5,293.9 627.5,291.9 628.5,290.3 629.5,290.2 630.5,290.5 631.5,291.8 632.5,293.8 633.5,296.1 634.5,299.3 635.5,302.4 636.5,304.7 637.5,305.9 638.5,306.0 639.5,303.6 640.5,300.8 641.5,298.9 642.5,297.4 643.5,297.3 644.5,298.7 645.5,300.4 646.5,301.9 647.5,304.7 648.5,306.9 649.5,308.7 650.5,309.7 651.5,309.9 652.5,307.8 653.5,305.8 654.5,303.1 655.5,301.3 656.5,300.1 657.5,300.8 658.5,301.8 659.5,304.8 660.5,308.9 661.5,314.2 662.5,321.0 663.5,327.6 664.5,334.0 665.5,339.2 666.5,343.2 667.5,343.6 668.5,343.7 669.5,342.3 670.5,339.4 671.5,337.0 672.5,334.9 673.5,332.4 674.5,328.7 675.5,324.1 676.5,316.7 677.5,310.0 678.5,304.7 679.5,300.0 680.5,297.6 681.5,297.0 682.5,296.3 683.5,294.8 684.5,295.0 685.5,295.1 686.5,296.9 687.5,299.6 688.5,302.9 689.5,305.9 690.5,310.5 691.5,314.4 692.5,317.7 693.5,321.6 694.5,324.5 695.5,327.9 696.5,331.7 697.5,336.8 698.5,339.7 699.5,341.4 700.5,340.4 701.5,339.0 702.5,337.0 703.5,336.7 704.5,337.6 705.5,338.8 706.5,338.8 707.5,337.7 708.5,336.4 709.5,335.6 710.5,334.5 711.5,333.9 712.5,334.0 713.5,333.9 714.5,333.7 715.5,334.7 716.5,336.2 717.5,337.6 718.5,338.5 719.5,338.7 720.5,336.8 721.5,336.2 722.5,335.1 723.5,334.6 724.5,336.0 725.5,339.3 726.5,340.5 727.5,342.2 728.5,342.8 729.5,341.4 730.5,339.9 731.5,338.8 732.5,337.9 733.5,338.5 734.5,340.0 735.5,340.9 736.5,342.6 737.5,344.3 738.5,344.4 739.5,343.7 740.5,342.7 741.5,341.3 742.5,339.3 743.5,337.6 744.5,335.9 745.5,333.5 746.5,330.6 747.5,328.1 748.5,325.6 749.5,323.3 750.5,321.9 751.5,321.2 752.5,320.6 753.5,319.8 754.5,318.9 755.5,317.7 756.5,316.1 757.5,314.1 758.5,312.4 759.5,310.6 760.5,308.5 761.5,305.9 762.5,303.9 763.5,301.4 764.5,299.6 765.5,298.3 766.5,297.1 767.5,295.0 768.5,294.1 769.5,294.1 770.5,294.7 771.5,295.8 772.5,297.6 773.5,298.9 774.5,299.6 775.5,299.9 776.5,300.6 777.5,301.9 778.5,302.9 779.5,303.2 780.5,303.0 781.5,302.2 782.5,299.9 783.5,297.3 784.5,294.1 785.5,290.4 786.5,286.5 787.5,282.9 788.5,279.6 789.5,276.7 790.5,274.3 791.5,272.2 792.5,270.4 793.5,268.5 794.5,267.3 795.5,265.9 796.5,265.1 797.5,264.8 798.5,264.7 799.5,265.1 800.5,266.8 801.5,267.4 802.5,266.9 803.5,266.2 804.5,267.0 805.5,268.0 806.5,270.5 807.5,275.9 808.5,282.1 809.5,286.9 810.5,291.2 811.5,293.6 812.5,293.9 813.5,292.4 814.5,290.0 815.5,286.5 816.5,283.0 817.5,279.5 818.5,277.1 819.5,275.5 820.5,276.1 821.5,278.8 822.5,281.5 823.5,284.3 824.5,287.6 825.5,289.9 826.5,290.6 827.5,291.6 828.5,292.6 829.5,294.0 830.5,295.5 831.5,298.7 832.5,302.2 833.5,305.7 834.5,308.0 835.5,309.5 836.5,310.8 837.5,312.5 838.5,314.8 839.5,317.7 840.5,320.0 841.5,321.2 842.5,320.6 843.5,319.5 844.5,317.3 845.5,316.1 846.5,314.2 847.5,312.0 848.5,311.5 849.5,313.0 850.5,316.3 851.5,320.5 852.5,326.3 853.5,330.8 854.5,335.3 855.5,337.6 856.5,339.1 857.5,339.0 858.5,338.1 859.5,335.1 860.5,332.3 861.5,328.8 862.5,326.7 863.5,324.4 864.5,322.7 865.5,321.4 866.5,322.4 867.5,323.9 868.5,326.1 869.5,328.6 870.5,330.5 871.5,330.7 872.5,330.7 873.5,329.5 874.5,329.0 875.5,328.2 876.5,327.2 877.5,326.1 878.5,325.8 879.5,326.0 880.5,326.1 881.5,327.2 882.5,327.8 883.5,327.9 884.5,326.6 885.5,324.8 886.5,321.7 887.5,318.7 888.5,315.9 889.5,314.3 890.5,314.5 891.5,316.0 892.5,318.9 893.5,321.8 894.5,322.9 895.5,322.3 896.5,321.3 897.5,318.7 898.5,316.6 899.5,314.8 900.5,313.7 901.5,313.0 902.5,312.8 903.5,312.1 904.5,312.4 905.5,312.9 906.5,313.3 907.5,313.1 908.5,312.9 909.5,312.3 910.5,311.5 911.5,310.3 912.5,309.2 913.5,308.8 914.5,308.3 915.5,307.9 916.5,308.0 917.5,308.8 918.5,309.2 919.5,308.4 920.5,307.8 921.5,306.7 922.5,304.6 923.5,301.9 924.5,300.7 925.5,298.6 926.5,296.5 927.5,295.7 928.5,295.7 929.5,295.2 930.5,294.9 931.5,294.3 932.5,292.1 933.5,289.4 934.5,286.5 935.5,283.7 936.5,281.1 937.5,279.9 938.5,278.1 939.5,277.1 940.5,276.8 941.5,276.8 942.5,277.2 943.5,279.2 944.5,280.9 945.5,283.8 946.5,286.5 947.5,288.8 948.5,289.9 949.5,290.9 950.5,290.1 951.5,289.0 952.5,288.5 953.5,289.1 954.5,290.2 955.5,292.7 956.5,296.7 957.5,299.6 958.5,302.3 959.5,304.5 960.5,305.5 961.5,305.1 962.5,305.7 963.5,306.5 964.5,306.9 965.5,307.5 966.5,307.8 967.5,307.3 968.5,305.9 969.5,305.8 970.5,306.2 971.5,307.0 972.5,307.6 973.5,307.9 974.5,308.7 975.5,309.9 976.5,312.8 977.5,316.8 978.5,321.2 979.5,323.6 980.5,325.3 981.5,324.6 982.5,322.5 983.5,319.5 984.5,316.7 985.5,313.5 986.5,310.5 987.5,308.1 988.5,306.5 989.5,304.6 990.5,303.3 991.5,302.5 992.5,301.6 993.5,300.8 994.5,300.5 995.5,299.6 996.5,298.3 997.5,296.6 998.5,294.9 999.5,293.4 1000.5,292.2 1001.5,292.6 1002.5,293.5 1003.5,294.8 1004.5,295.9 1005.5,297.2 1006.5,297.5 1007.5,297.7" fill="none" stroke="#efd98e" stroke-width="1.2" stroke-linejoin="round" stroke-opacity="0.65"/><path d="M18.5 476V486M20.5 472V485M23.5 474V484M25.5 477V484M26.5 479V482M32.5 480V491M33.5 476V489M35.5 474V485M36.5 474V483M39.5 474V482M42.5 473V482M43.5 473V482M53.5 483V497M54.5 485V494M55.5 481V490M56.5 479V489M57.5 477V481M58.5 466V484M59.5 466V478M60.5 466V474M63.5 467V475M66.5 462V474M67.5 459V470M68.5 449V464M69.5 452V461M72.5 450V458M75.5 448V457M76.5 446V455M78.5 447V453M79.5 446V452M81.5 441V449M82.5 441V448M85.5 435V448M87.5 436V448M88.5 437V449M89.5 437V446M90.5 436V446M93.5 437V444M94.5 439V443M96.5 429V441M97.5 432V437M98.5 424V433M101.5 415V426M102.5 417V426M108.5 421V427M109.5 419V426M110.5 419V425M112.5 418V425M113.5 417V419M117.5 404V418M119.5 400V413M120.5 397V408M122.5 394V404M123.5 395V404M124.5 389V402M125.5 385V398M127.5 384V391M128.5 381V392M129.5 379V392M130.5 376V383M131.5 373V383M132.5 371V386M134.5 376V391M137.5 374V388M138.5 364V382M139.5 353V376M140.5 360V372M142.5 358V363M146.5 362V375M148.5 370V386M150.5 385V402M153.5 379V397M154.5 381V394M156.5 379V390M162.5 384V394M164.5 380V391M165.5 377V385M168.5 370V382M169.5 369V379M172.5 374V382M173.5 375V383M175.5 375V381M177.5 367V379M179.5 364V375M180.5 360V371M181.5 361V368M183.5 364V371M185.5 363V372M187.5 361V372M188.5 360V369M189.5 360V367M191.5 365V383M193.5 372V382M195.5 364V374M196.5 364V372M198.5 362V371M200.5 359V367M203.5 351V361M207.5 347V357M209.5 343V352M210.5 341V351M211.5 341V351M212.5 339V348M213.5 338V350M216.5 338V345M219.5 336V343M220.5 337V341M221.5 333V341M222.5 329V340M227.5 333V349M229.5 331V341M230.5 331V343M233.5 339V362M235.5 343V365M239.5 340V351M241.5 335V346M242.5 334V342M243.5 334V344M248.5 347V362M253.5 358V365M254.5 356V365M259.5 360V375M261.5 351V364M262.5 356V360M263.5 346V358M264.5 345V355M267.5 342V355M268.5 348V353M271.5 346V355M275.5 338V352M276.5 335V349M277.5 337V347M279.5 336V346M282.5 327V341M283.5 323V337M285.5 316V330M288.5 325V329M289.5 311V326M290.5 305V319M292.5 304V314M293.5 303V316M294.5 303V315M297.5 300V309M298.5 295V308M299.5 294V304M301.5 294V304M303.5 294V302M309.5 297V311M311.5 304V316M314.5 306V313M316.5 298V313M317.5 298V314M324.5 315V329M326.5 310V322M331.5 354V378M333.5 346V365M334.5 341V360M335.5 341V353M336.5 333V347M338.5 333V346M342.5 340V350M345.5 344V357M346.5 335V349M347.5 336V344M348.5 323V339M350.5 320V332M352.5 323V333M353.5 320V331M354.5 317V327M356.5 309V323M357.5 310V321M358.5 304V314M359.5 300V315M360.5 297V307M361.5 295V305M363.5 291V301M368.5 285V300M369.5 292V299M371.5 284V292M372.5 276V290M373.5 276V283M376.5 262V283M378.5 265V280M379.5 273V280M380.5 266V278M381.5 263V273M383.5 254V273M388.5 266V275M389.5 251V270M390.5 226V261M392.5 237V258M393.5 229V253M394.5 204V239M395.5 189V222M396.5 168V208M397.5 175V228M399.5 103V152M406.5 192V250M407.5 178V244M408.5 167V218M409.5 161V197M415.5 186V207M417.5 189V213M418.5 193V224M421.5 211V238M423.5 216V245M425.5 200V227M426.5 187V214M427.5 176V208M432.5 217V238M433.5 211V223M434.5 208V227M435.5 204V217M436.5 201V216M438.5 203V219M441.5 198V207M445.5 188V216M446.5 189V197M447.5 174V194M451.5 191V201M452.5 191V200M453.5 182V197M455.5 178V192M457.5 148V181M458.5 156V177M459.5 166V175M462.5 156V167M464.5 136V161M465.5 136V161M468.5 143V165M474.5 179V209M476.5 186V205M477.5 185V197M478.5 181V194M481.5 185V198M485.5 209V223M488.5 212V247M491.5 220V257M493.5 222V245M495.5 222V241M496.5 224V245M497.5 225V243M499.5 220V236M500.5 218V237M502.5 220V234M508.5 238V259M510.5 236V260M513.5 246V268M514.5 251V272M516.5 247V266M517.5 244V263M519.5 227V252M520.5 228V249M523.5 220V246M529.5 261V290M532.5 260V280M533.5 255V277M537.5 276V286M538.5 269V285M539.5 267V282M544.5 283V304M546.5 276V296M547.5 270V293M548.5 269V277M550.5 259V274M552.5 244V260M555.5 264V273M556.5 262V266M557.5 262V277M560.5 266V277M561.5 262V279M562.5 264V279M564.5 265V276M565.5 255V272M567.5 257V270M568.5 261V268M570.5 251V264M571.5 248V261M572.5 239V259M578.5 257V271M583.5 279V302M584.5 283V298M586.5 288V304M588.5 296V304M589.5 291V303M590.5 280V310M593.5 311V319M597.5 324V336M598.5 310V333M600.5 305V324M601.5 308V319M602.5 309V312M604.5 307V320M605.5 303V315M606.5 297V314M608.5 295V310M609.5 300V310M610.5 296V307M611.5 291V313M615.5 314V326M616.5 311V325M618.5 301V316M621.5 290V305M624.5 286V298M626.5 282V296M627.5 283V293M631.5 292V297M636.5 298V313M637.5 302V311M638.5 297V307M639.5 292V304M642.5 292V302M646.5 300V313M648.5 304V318M650.5 301V315M651.5 303V312M652.5 297V307M654.5 292V306M656.5 296V310M658.5 302V317M663.5 330V341M666.5 339V357M667.5 334V350M670.5 329V341M672.5 324V337M674.5 317V329M675.5 293V317M676.5 294V304M677.5 293V304M679.5 293V303M681.5 288V302M682.5 291V299M683.5 289V301M685.5 293V303M692.5 315V328M694.5 320V334M698.5 338V351M699.5 329V347M704.5 336V346M706.5 329V342M707.5 330V342M710.5 325V340M711.5 325V339M716.5 335V354M719.5 324V340M720.5 326V341M722.5 330V344M723.5 331V354M726.5 337V349M728.5 338V346M731.5 330V342M732.5 334V339M735.5 341V352M738.5 336V349M739.5 337V346M740.5 335V345M742.5 329V342M743.5 334V339M744.5 323V336M745.5 321V334M746.5 319V330M749.5 314V325M750.5 314V325M753.5 312V323M754.5 314V321M755.5 306V317M757.5 301V315M760.5 296V309M761.5 296V308M763.5 295V304M765.5 289V300M766.5 288V298M767.5 286V298M770.5 294V304M771.5 297V300M773.5 295V302M775.5 297V303M778.5 304V310M779.5 297V308M780.5 294V304M782.5 285V300M784.5 285V290M785.5 278V287M786.5 272V285M787.5 273V281M788.5 271V279M789.5 267V278M790.5 266V275M793.5 262V271M795.5 256V270M798.5 263V272M801.5 266V273M802.5 254V271M803.5 258V273M811.5 285V300M813.5 283V295M814.5 275V291M815.5 275V288M816.5 271V284M818.5 265V278M822.5 277V294M823.5 280V295M826.5 286V301M828.5 288V301M833.5 308V321M834.5 305V319M835.5 304V308M840.5 307V325M842.5 312V324M844.5 311V318M847.5 299V317M851.5 328V338M852.5 329V340M855.5 339V350M856.5 337V348M857.5 329V343M859.5 321V335M861.5 317V329M863.5 316V325M864.5 313V325M869.5 327V341M870.5 324V335M871.5 322V335M873.5 322V339M875.5 318V335M876.5 316V334M880.5 325V333M882.5 330V331M883.5 321V330M885.5 314V325M886.5 306V321M888.5 302V317M891.5 317V328M893.5 322V332M894.5 319V329M895.5 309V325M897.5 309V317M899.5 305V318M903.5 305V317M905.5 311V317M907.5 307V316M908.5 306V315M910.5 306V315M911.5 301V314M912.5 304V313M914.5 303V313M915.5 305V314M919.5 301V313M921.5 301V307M922.5 294V306M923.5 289V301M925.5 290V300M926.5 290V300M929.5 295V300M930.5 288V300M931.5 287V295M932.5 280V291M934.5 275V289M935.5 270V283M936.5 276V282M938.5 273V282M941.5 271V283M944.5 284V292M946.5 283V296M948.5 289V294M950.5 283V293M951.5 282V289M957.5 300V311M960.5 300V311M961.5 300V310M964.5 306V314M965.5 308V312M966.5 300V312M967.5 300V309M968.5 300V308M971.5 306V316M972.5 303V313M973.5 299V308M979.5 321V331M981.5 316V326M982.5 317V322M983.5 306V319M984.5 308V318M985.5 304V315M986.5 302V307M989.5 297V308M991.5 298V303M992.5 296V304M994.5 294V303M995.5 293V302M996.5 292V297M997.5 289V298M1000.5 287V296M1002.5 294V300M1004.5 294V298M1007.5 295V302" stroke="#26a69a" stroke-opacity="0.62" stroke-width="1" fill="none" shape-rendering="crispEdges"/><path d="M19.5 474V487M22.5 473V484M24.5 476V484M27.5 476V486M28.5 477V486M30.5 481V489M31.5 480V493M34.5 478V486M37.5 477V483M38.5 479V483M40.5 473V482M41.5 474V479M44.5 475V479M45.5 475V483M46.5 478V482M47.5 477V487M48.5 484V490M50.5 485V499M51.5 487V506M61.5 467V475M62.5 471V477M64.5 467V474M65.5 465V475M70.5 452V455M71.5 453V458M73.5 451V458M74.5 450V459M77.5 445V453M83.5 440V447M84.5 442V448M86.5 446V448M91.5 437V444M92.5 437V444M95.5 434V443M99.5 424V429M103.5 419V421M104.5 419V422M105.5 417V425M106.5 417V427M107.5 421V428M111.5 419V424M114.5 417V419M115.5 408V422M116.5 416V420M118.5 405V416M121.5 395V405M133.5 372V388M135.5 377V389M136.5 379V390M141.5 358V365M143.5 359V370M144.5 359V371M145.5 360V371M147.5 363V379M149.5 373V396M151.5 385V397M152.5 385V400M155.5 381V393M157.5 380V385M158.5 381V396M159.5 383V392M160.5 385V391M161.5 385V397M163.5 383V391M166.5 374V384M167.5 371V384M170.5 371V381M171.5 374V382M174.5 377V383M176.5 370V380M178.5 366V376M182.5 360V370M184.5 364V368M186.5 364V372M190.5 361V371M192.5 367V383M194.5 372V379M197.5 361V372M199.5 358V369M201.5 360V364M205.5 349V359M206.5 348V358M208.5 346V356M214.5 336V348M215.5 336V346M217.5 335V344M218.5 338V344M223.5 327V336M224.5 325V339M225.5 329V344M226.5 332V341M228.5 332V341M231.5 333V339M232.5 335V353M234.5 343V371M236.5 343V347M237.5 344V353M238.5 340V356M240.5 338V349M244.5 335V345M245.5 338V352M246.5 351V355M247.5 349V358M249.5 350V369M250.5 351V364M251.5 354V365M252.5 355V365M255.5 358V369M256.5 363V375M257.5 364V370M258.5 367V383M260.5 354V370M265.5 344V355M266.5 343V355M269.5 344V353M270.5 349V354M272.5 350V356M273.5 348V355M274.5 347V355M278.5 335V347M280.5 333V346M281.5 335V345M284.5 319V334M286.5 317V329M287.5 320V329M291.5 305V320M295.5 304V311M296.5 300V311M300.5 295V306M302.5 294V303M305.5 297V303M306.5 297V307M307.5 301V312M308.5 298V312M310.5 304V313M312.5 301V319M313.5 301V316M315.5 299V313M318.5 304V317M319.5 308V315M320.5 310V321M321.5 314V324M323.5 315V331M325.5 311V323M327.5 314V326M329.5 332V355M330.5 345V365M332.5 350V372M337.5 333V344M339.5 336V346M340.5 336V349M341.5 337V348M343.5 340V348M344.5 343V364M349.5 319V334M351.5 319V326M355.5 312V326M362.5 293V303M365.5 281V292M366.5 283V297M367.5 293V301M370.5 283V295M374.5 277V288M375.5 275V287M377.5 264V280M382.5 266V275M384.5 255V272M386.5 262V283M387.5 270V281M391.5 229V261M398.5 113V200M400.5 110V215M401.5 160V222M402.5 149V183M403.5 173V239M404.5 206V255M405.5 194V252M410.5 150V183M411.5 165V181M412.5 180V193M413.5 180V196M414.5 180V201M416.5 186V204M419.5 197V212M420.5 202V232M422.5 212V241M424.5 214V230M428.5 186V211M429.5 204V215M430.5 205V219M431.5 205V223M437.5 198V223M439.5 178V215M440.5 180V210M442.5 181V209M443.5 198V230M444.5 190V226M448.5 178V201M449.5 186V218M450.5 188V213M454.5 180V193M456.5 163V186M460.5 147V172M463.5 146V164M466.5 138V146M467.5 138V161M469.5 144V169M470.5 157V178M471.5 159V186M472.5 166V196M473.5 182V215M475.5 184V208M479.5 167V190M480.5 172V194M482.5 186V208M483.5 194V228M484.5 202V245M486.5 210V234M487.5 214V241M489.5 221V266M490.5 248V263M494.5 226V243M498.5 224V240M501.5 208V238M503.5 226V246M505.5 238V255M506.5 244V267M507.5 238V259M509.5 250V260M511.5 241V263M512.5 244V267M515.5 258V265M518.5 242V260M521.5 229V237M522.5 227V247M524.5 231V252M525.5 243V253M526.5 245V266M527.5 248V269M528.5 253V279M530.5 260V270M531.5 267V276M534.5 267V280M536.5 270V283M540.5 270V284M541.5 275V294M542.5 279V300M543.5 285V309M545.5 283V299M549.5 267V274M553.5 250V260M554.5 257V272M559.5 267V285M563.5 265V279M566.5 257V271M573.5 243V263M574.5 255V261M575.5 254V269M576.5 257V270M577.5 250V272M579.5 259V276M580.5 265V281M581.5 269V309M582.5 280V308M585.5 290V302M587.5 287V306M591.5 285V304M592.5 285V318M594.5 309V322M595.5 311V334M596.5 327V337M599.5 307V325M603.5 309V321M607.5 293V311M612.5 299V328M613.5 308V325M614.5 316V324M617.5 308V319M622.5 293V302M623.5 299V301M625.5 281V297M628.5 284V290M629.5 282V295M630.5 290V298M632.5 293V307M633.5 295V298M634.5 300V323M635.5 303V320M640.5 291V303M641.5 295V304M643.5 295V307M644.5 298V309M645.5 301V310M647.5 303V318M649.5 303V316M653.5 295V305M655.5 292V304M657.5 300V314M659.5 305V321M660.5 309V331M661.5 313V334M662.5 322V354M664.5 336V355M665.5 338V360M668.5 333V344M669.5 337V343M671.5 327V338M678.5 293V304M680.5 296V303M684.5 290V302M686.5 296V309M687.5 302V313M688.5 304V317M689.5 307V316M690.5 308V329M691.5 314V326M693.5 323V333M695.5 325V354M696.5 335V354M697.5 334V353M701.5 329V343M702.5 333V345M703.5 333V347M705.5 331V344M708.5 330V341M709.5 330V337M712.5 327V339M713.5 329V339M715.5 334V345M717.5 334V344M718.5 332V342M721.5 327V339M724.5 335V354M725.5 337V350M727.5 342V347M730.5 331V340M733.5 336V350M734.5 339V352M736.5 340V353M737.5 341V350M741.5 331V344M747.5 315V328M748.5 312V326M751.5 315V326M752.5 317V323M756.5 304V317M758.5 299V314M762.5 293V304M764.5 297V299M768.5 287V296M769.5 289V300M772.5 294V304M774.5 296V309M776.5 298V311M777.5 300V312M781.5 291V303M783.5 279V296M791.5 265V276M792.5 267V273M796.5 259V269M797.5 261V270M799.5 262V271M800.5 265V274M804.5 263V278M805.5 269V280M806.5 272V293M807.5 278V298M808.5 285V306M809.5 287V304M810.5 286V301M817.5 272V280M819.5 268V278M820.5 275V288M821.5 276V293M824.5 283V297M825.5 283V297M829.5 290V307M830.5 296V309M831.5 301V322M832.5 305V317M836.5 308V333M838.5 316V326M839.5 313V329M841.5 320V324M843.5 310V322M845.5 309V320M848.5 307V324M849.5 314V330M850.5 319V335M853.5 332V345M854.5 335V347M858.5 327V337M860.5 317V332M862.5 316V328M865.5 317V328M866.5 318V331M867.5 324V334M872.5 323V331M874.5 321V334M878.5 320V331M879.5 322V334M881.5 326V332M884.5 327V328M887.5 300V316M889.5 306V320M890.5 316V325M892.5 318V333M896.5 312V321M901.5 306V316M902.5 311V317M904.5 307V317M906.5 314V317M909.5 305V315M913.5 303V312M916.5 307V310M917.5 306V315M918.5 305V315M920.5 298V312M924.5 296V302M927.5 291V298M928.5 293V301M933.5 277V289M937.5 273V283M939.5 271V280M940.5 270V282M942.5 277V282M943.5 277V289M945.5 282V297M947.5 289V296M949.5 283V294M952.5 284V295M953.5 288V300M954.5 291V303M955.5 295V309M956.5 297V309M958.5 300V312M959.5 300V311M962.5 301V307M963.5 303V315M969.5 303V313M970.5 308V315M974.5 302V317M975.5 307V321M976.5 313V329M977.5 320V333M980.5 318V328M987.5 302V312M988.5 297V309M990.5 297V303M993.5 296V303M999.5 287V296M1001.5 291V299M1003.5 295V303M1005.5 296V298M1006.5 294V301" stroke="#ef5350" stroke-opacity="0.62" stroke-width="1" fill="none" shape-rendering="crispEdges"/><path d="M18.5 476V480M20.5 474V479M23.5 480V484M25.5 480V481M26.5 479V480M32.5 488V491M33.5 485V488M35.5 483V484M36.5 479V483M39.5 476V481M42.5 474V478M43.5 473V474M53.5 492V497M54.5 490V492M55.5 487V490M56.5 480V487M57.5 478V480M58.5 473V478M59.5 466V473M60.5 466V467M63.5 468V473M66.5 469V474M67.5 463V469M68.5 457V463M69.5 453V457M72.5 453V455M75.5 453V456M76.5 449V453M78.5 451V453M79.5 450V451M81.5 444V447M82.5 443V444M85.5 447V448M87.5 441V448M88.5 439V441M89.5 437V439M90.5 436V437M93.5 443V444M94.5 442V443M96.5 438V441M97.5 435V436M98.5 425V433M101.5 423V424M102.5 419V423M108.5 424V427M109.5 422V424M110.5 421V422M112.5 418V422M113.5 417V418M117.5 417V418M119.5 403V412M120.5 402V403M122.5 402V403M123.5 398V402M124.5 391V398M125.5 390V391M127.5 386V387M128.5 384V386M129.5 381V384M130.5 380V381M131.5 373V380M132.5 371V373M134.5 380V381M137.5 383V388M138.5 374V381M139.5 372V374M140.5 360V372M142.5 359V361M146.5 369V371M148.5 373V377M150.5 385V390M153.5 391V397M154.5 386V391M156.5 379V387M162.5 387V393M164.5 383V389M165.5 379V383M168.5 373V382M169.5 369V373M172.5 380V381M173.5 379V380M175.5 378V380M177.5 373V378M179.5 368V374M180.5 367V368M181.5 362V367M183.5 366V367M185.5 366V367M187.5 364V367M188.5 363V364M189.5 362V363M191.5 366V369M193.5 372V374M195.5 372V373M196.5 369V372M198.5 366V370M200.5 362V367M203.5 351V352M207.5 348V353M209.5 349V351M210.5 347V349M211.5 345V347M212.5 340V345M213.5 338V340M216.5 340V344M219.5 339V343M220.5 337V339M221.5 336V337M222.5 332V336M227.5 334V337M229.5 338V339M230.5 336V338M233.5 341V342M235.5 344V355M239.5 345V351M241.5 341V346M242.5 336V341M243.5 335V336M248.5 350V356M253.5 364V365M254.5 356V364M259.5 360V369M261.5 360V364M262.5 359V360M263.5 350V358M264.5 349V350M267.5 353V354M268.5 349V353M271.5 351V352M275.5 344V351M276.5 341V344M277.5 339V341M279.5 338V343M282.5 337V341M283.5 330V337M285.5 320V330M288.5 326V327M289.5 316V325M290.5 307V316M292.5 309V311M293.5 308V309M294.5 305V308M297.5 302V307M298.5 300V302M299.5 299V300M301.5 299V300M303.5 300V301M309.5 306V310M311.5 306V310M314.5 307V312M316.5 306V310M317.5 303V306M324.5 319V322M326.5 318V321M331.5 363V364M333.5 363V364M334.5 353V360M335.5 348V352M336.5 339V347M338.5 339V342M342.5 340V345M345.5 345V347M346.5 341V345M347.5 336V341M348.5 332V336M350.5 323V332M352.5 323V324M353.5 321V323M354.5 318V321M356.5 314V319M357.5 313V314M358.5 311V313M359.5 303V311M360.5 302V303M361.5 298V302M363.5 292V300M368.5 295V299M369.5 292V295M371.5 287V291M372.5 280V287M373.5 277V280M376.5 279V282M378.5 278V279M379.5 273V278M380.5 267V273M381.5 266V267M383.5 264V272M388.5 273V275M389.5 251V270M390.5 245V251M392.5 252V258M393.5 232V252M394.5 214V232M395.5 209V214M396.5 196V207M397.5 180V222M399.5 108V150M406.5 243V247M407.5 198V243M408.5 177V198M409.5 168V177M415.5 188V201M417.5 196V200M418.5 193V196M421.5 221V224M423.5 224V228M425.5 215V227M426.5 207V214M427.5 198V207M432.5 221V223M433.5 217V221M434.5 214V217M435.5 209V214M436.5 202V209M438.5 204V209M441.5 206V207M445.5 197V216M446.5 189V197M447.5 179V189M451.5 198V199M452.5 196V198M453.5 186V196M455.5 181V187M457.5 176V181M458.5 172V176M459.5 169V172M462.5 165V166M464.5 148V160M465.5 138V148M468.5 148V153M474.5 182V200M476.5 193V202M477.5 192V193M478.5 186V192M481.5 192V194M485.5 212V222M488.5 228V236M491.5 249V257M493.5 232V240M495.5 232V238M496.5 230V232M497.5 229V230M499.5 226V233M500.5 224V226M502.5 226V234M508.5 253V254M510.5 242V259M513.5 263V266M514.5 261V263M516.5 250V263M517.5 246V250M519.5 241V250M520.5 231V241M523.5 245V246M529.5 262V263M532.5 272V275M533.5 268V272M537.5 281V282M538.5 280V281M539.5 267V280M544.5 295V301M546.5 292V295M547.5 277V292M548.5 270V277M550.5 268V271M552.5 249V258M555.5 265V266M556.5 264V265M557.5 262V264M560.5 268V273M561.5 267V268M562.5 266V267M564.5 274V276M565.5 266V272M567.5 267V270M568.5 266V267M570.5 259V262M571.5 256V259M572.5 244V256M578.5 264V271M583.5 293V301M584.5 291V293M586.5 296V302M588.5 303V304M589.5 295V303M590.5 294V295M593.5 312V317M597.5 325V336M598.5 317V325M600.5 313V319M601.5 310V313M602.5 309V310M604.5 313V319M605.5 312V313M606.5 310V312M608.5 302V310M609.5 300V302M610.5 299V300M611.5 292V299M615.5 314V320M616.5 311V314M618.5 303V312M621.5 296V301M624.5 295V297M626.5 290V295M627.5 287V290M631.5 295V296M636.5 308V309M637.5 305V308M638.5 300V305M639.5 293V300M642.5 295V297M646.5 303V305M648.5 312V313M650.5 312V313M651.5 306V312M652.5 298V306M654.5 296V300M656.5 297V303M658.5 302V303M663.5 336V341M666.5 345V346M667.5 338V345M670.5 332V340M672.5 329V337M674.5 321V328M675.5 310V317M676.5 296V303M677.5 294V296M679.5 296V302M681.5 293V298M682.5 292V293M683.5 291V292M685.5 297V299M692.5 324V325M694.5 326V332M698.5 343V351M699.5 331V343M704.5 341V344M706.5 334V342M707.5 330V334M710.5 334V336M711.5 332V334M716.5 335V339M719.5 337V339M720.5 327V337M722.5 330V338M723.5 331V332M726.5 342V347M728.5 340V344M731.5 338V340M732.5 335V338M735.5 341V343M738.5 344V346M739.5 341V344M740.5 338V341M742.5 338V339M743.5 337V338M744.5 335V336M745.5 325V333M746.5 324V325M749.5 321V325M750.5 318V321M753.5 319V322M754.5 316V319M755.5 313V316M757.5 313V315M760.5 302V309M761.5 299V302M763.5 298V303M765.5 298V299M766.5 295V298M767.5 290V295M770.5 299V300M771.5 298V299M773.5 298V299M775.5 297V299M778.5 305V307M779.5 301V305M780.5 298V301M782.5 298V299M784.5 289V290M785.5 282V287M786.5 280V282M787.5 278V280M788.5 276V278M789.5 269V276M790.5 266V269M793.5 267V268M795.5 260V265M798.5 265V267M801.5 269V273M802.5 265V269M803.5 259V265M811.5 292V300M813.5 285V293M814.5 283V285M815.5 278V283M816.5 273V278M818.5 275V276M822.5 292V293M823.5 289V292M826.5 291V295M828.5 292V293M833.5 308V309M834.5 307V308M835.5 306V307M840.5 323V324M842.5 316V324M844.5 311V317M847.5 302V308M851.5 332V334M852.5 331V332M855.5 342V347M856.5 339V342M857.5 329V339M859.5 328V333M861.5 322V329M863.5 321V323M864.5 320V321M869.5 333V336M870.5 330V333M871.5 327V330M873.5 323V330M875.5 327V330M876.5 322V327M880.5 328V333M882.5 330V331M883.5 328V329M885.5 319V325M886.5 313V319M888.5 312V315M891.5 319V321M893.5 327V329M894.5 322V327M895.5 315V322M897.5 313V316M899.5 313V317M903.5 312V315M905.5 315V316M907.5 312V316M908.5 311V312M910.5 310V312M911.5 307V310M912.5 306V307M914.5 308V310M915.5 307V308M919.5 302V311M921.5 304V305M922.5 300V304M923.5 299V300M925.5 294V299M926.5 290V294M929.5 296V298M930.5 292V296M931.5 289V292M932.5 283V289M934.5 282V284M935.5 279V282M936.5 278V279M938.5 273V280M941.5 277V278M944.5 286V287M946.5 292V295M948.5 290V293M950.5 286V292M951.5 284V286M957.5 302V308M960.5 304V308M961.5 302V304M964.5 309V313M965.5 308V309M966.5 305V308M967.5 303V305M968.5 301V303M971.5 307V309M972.5 306V307M973.5 304V306M979.5 324V327M981.5 321V325M982.5 317V321M983.5 311V317M984.5 310V311M985.5 307V310M986.5 303V307M989.5 300V305M991.5 301V302M992.5 300V301M994.5 300V301M995.5 297V300M996.5 293V297M997.5 289V293M1000.5 291V292M1002.5 295V299M1004.5 296V297M1007.5 296V298" stroke="#26a69a" stroke-width="1" fill="none" shape-rendering="crispEdges"/><path d="M19.5 476V479M22.5 473V484M24.5 480V481M27.5 479V481M28.5 481V486M30.5 487V489M31.5 489V493M34.5 485V486M37.5 479V480M38.5 480V481M40.5 476V477M41.5 477V478M44.5 475V478M45.5 478V479M46.5 479V480M47.5 480V486M48.5 486V488M50.5 494V495M51.5 495V501M61.5 467V472M62.5 472V473M64.5 468V471M65.5 471V474M70.5 453V454M71.5 454V455M73.5 453V454M74.5 454V457M77.5 449V453M83.5 443V446M84.5 446V448M86.5 447V448M91.5 437V443M92.5 443V444M95.5 442V443M99.5 425V426M103.5 419V420M104.5 420V421M105.5 421V422M106.5 422V425M107.5 425V427M111.5 421V422M114.5 417V418M115.5 418V421M116.5 420V421M118.5 415V416M121.5 402V403M133.5 372V381M135.5 380V381M136.5 381V389M141.5 360V361M143.5 360V361M144.5 361V370M145.5 370V371M147.5 369V377M149.5 373V390M151.5 385V393M152.5 393V399M155.5 386V387M157.5 381V382M158.5 382V384M159.5 384V385M160.5 385V390M161.5 390V393M163.5 387V389M166.5 379V383M167.5 383V384M170.5 371V378M171.5 378V381M174.5 379V380M176.5 378V380M178.5 373V374M182.5 362V367M184.5 366V367M186.5 366V367M190.5 362V369M192.5 367V374M194.5 372V373M197.5 369V370M199.5 366V368M201.5 362V363M205.5 350V352M206.5 352V353M208.5 348V351M214.5 338V341M215.5 341V344M217.5 340V342M218.5 342V344M223.5 332V333M224.5 333V335M225.5 335V336M226.5 336V337M228.5 334V339M231.5 336V339M232.5 339V342M234.5 343V355M236.5 344V346M237.5 346V348M238.5 348V352M240.5 345V346M244.5 335V338M245.5 338V351M246.5 351V355M247.5 355V356M249.5 351V352M250.5 352V358M251.5 358V361M252.5 361V365M255.5 359V363M256.5 363V364M257.5 364V368M258.5 368V369M260.5 360V364M265.5 349V350M266.5 350V355M269.5 349V351M270.5 351V352M272.5 351V352M273.5 352V354M274.5 354V355M278.5 339V343M280.5 338V345M281.5 344V345M284.5 330V334M286.5 320V323M287.5 323V327M291.5 307V311M295.5 305V306M296.5 306V307M300.5 299V300M302.5 299V301M305.5 297V301M306.5 301V302M307.5 302V308M308.5 308V311M310.5 306V310M312.5 306V310M313.5 310V312M315.5 307V310M318.5 304V309M319.5 309V311M320.5 311V315M321.5 315V317M323.5 318V322M325.5 319V321M327.5 318V325M329.5 334V350M330.5 350V364M332.5 363V364M337.5 339V342M339.5 339V343M340.5 343V344M341.5 344V345M343.5 340V345M344.5 345V347M349.5 332V333M351.5 323V324M355.5 318V319M362.5 298V300M365.5 286V291M366.5 291V295M367.5 295V299M370.5 292V293M374.5 277V281M375.5 281V282M377.5 279V280M382.5 266V274M384.5 264V265M386.5 269V274M387.5 274V281M391.5 245V260M398.5 114V190M400.5 112V200M401.5 165V215M402.5 160V183M403.5 183V215M404.5 215V224M405.5 224V247M410.5 168V174M411.5 174V180M412.5 180V184M413.5 184V186M414.5 186V201M416.5 188V200M419.5 197V201M420.5 203V224M422.5 221V228M424.5 224V227M428.5 198V206M429.5 206V214M430.5 214V218M431.5 218V223M437.5 202V209M439.5 204V207M440.5 207V209M442.5 206V208M443.5 208V221M444.5 221V225M448.5 179V180M449.5 186V187M450.5 189V199M454.5 186V187M456.5 181V182M460.5 169V171M463.5 163V164M466.5 138V141M467.5 141V153M469.5 148V159M470.5 159V160M471.5 160V174M472.5 174V189M473.5 189V200M475.5 185V202M479.5 186V187M480.5 187V194M482.5 192V199M483.5 199V208M484.5 208V222M486.5 212V231M487.5 231V236M489.5 228V251M490.5 251V257M494.5 232V238M498.5 229V233M501.5 224V234M503.5 227V239M505.5 243V244M506.5 244V247M507.5 247V254M509.5 253V259M511.5 242V259M512.5 259V266M515.5 261V263M518.5 246V250M521.5 231V236M522.5 236V246M524.5 245V246M525.5 246V250M526.5 250V253M527.5 253V258M528.5 258V263M530.5 262V268M531.5 268V275M534.5 268V275M536.5 276V282M540.5 270V271M541.5 275V277M542.5 279V286M543.5 286V301M545.5 295V298M549.5 270V271M553.5 250V257M554.5 257V266M559.5 270V273M563.5 266V276M566.5 266V271M573.5 244V259M574.5 259V260M575.5 260V269M576.5 269V270M577.5 270V271M579.5 264V272M580.5 272V274M581.5 274V291M582.5 291V304M585.5 291V302M587.5 296V305M591.5 294V300M592.5 300V317M594.5 312V322M595.5 322V333M596.5 333V336M599.5 317V319M603.5 309V319M607.5 310V311M612.5 299V312M613.5 312V319M614.5 319V320M617.5 311V312M622.5 296V301M623.5 300V301M625.5 295V296M628.5 287V288M629.5 288V295M630.5 295V296M632.5 295V297M633.5 297V298M634.5 300V306M635.5 306V309M640.5 293V296M641.5 296V297M643.5 295V299M644.5 299V301M645.5 301V305M647.5 303V313M649.5 312V313M653.5 298V300M655.5 296V303M657.5 300V301M659.5 306V313M660.5 313V322M661.5 322V325M662.5 325V341M664.5 337V345M665.5 345V346M668.5 338V339M669.5 339V340M671.5 332V337M678.5 294V302M680.5 296V298M684.5 291V299M686.5 297V304M687.5 304V307M688.5 307V309M689.5 309V312M690.5 312V324M691.5 324V325M693.5 324V332M695.5 326V341M696.5 341V342M697.5 342V353M701.5 330V333M702.5 333V339M703.5 339V344M705.5 341V342M708.5 330V334M709.5 334V336M712.5 332V333M713.5 333V336M715.5 335V339M717.5 335V337M718.5 337V339M721.5 327V338M724.5 335V343M725.5 343V347M727.5 342V344M730.5 336V340M733.5 336V342M734.5 342V343M736.5 341V345M737.5 345V346M741.5 338V339M747.5 324V326M748.5 325V326M751.5 318V321M752.5 321V322M756.5 313V315M758.5 313V314M762.5 299V303M764.5 298V299M768.5 290V294M769.5 294V300M772.5 298V299M774.5 298V299M776.5 298V301M777.5 301V307M781.5 298V301M783.5 295V296M791.5 266V267M792.5 267V268M796.5 260V265M797.5 265V267M799.5 265V267M800.5 267V273M804.5 263V272M805.5 272V274M806.5 274V276M807.5 278V290M808.5 290V292M809.5 292V294M810.5 294V300M817.5 273V276M819.5 275V276M820.5 276V283M821.5 283V293M824.5 289V294M825.5 294V295M829.5 292V298M830.5 298V299M831.5 301V305M832.5 305V309M836.5 308V311M838.5 317V322M839.5 322V328M841.5 323V324M843.5 316V317M845.5 311V312M848.5 307V314M849.5 314V320M850.5 320V334M853.5 332V335M854.5 335V347M858.5 329V333M860.5 328V330M862.5 322V323M865.5 320V321M866.5 321V330M867.5 330V332M872.5 327V330M874.5 323V330M878.5 323V324M879.5 324V333M881.5 328V332M884.5 327V328M887.5 313V315M889.5 312V320M890.5 320V321M892.5 319V329M896.5 315V316M901.5 311V313M902.5 313V315M904.5 312V316M906.5 315V317M909.5 311V312M913.5 306V310M916.5 307V308M917.5 308V310M918.5 310V311M920.5 302V305M924.5 299V301M927.5 291V295M928.5 295V298M933.5 283V284M937.5 278V280M939.5 273V277M940.5 277V278M942.5 277V280M943.5 280V287M945.5 286V295M947.5 292V293M949.5 290V292M952.5 284V288M953.5 288V291M954.5 291V293M955.5 295V297M956.5 298V308M958.5 302V307M959.5 307V308M962.5 302V306M963.5 306V313M969.5 303V308M970.5 308V309M974.5 304V316M975.5 316V317M976.5 317V326M977.5 326V330M980.5 324V325M987.5 303V304M988.5 304V305M990.5 300V302M993.5 300V301M999.5 291V292M1001.5 291V299M1003.5 295V297M1005.5 296V297M1006.5 297V298" stroke="#ef5350" stroke-width="1" fill="none" shape-rendering="crispEdges"/><path d="M18 301H1039" stroke="#ef5350" stroke-opacity="0.55" stroke-width="2" stroke-dasharray="1.5 1.2" fill="none"/><path d="M1039.5 54V571M18 547.5H1085" stroke="#4f525e" stroke-width="1" fill="none" shape-rendering="crispEdges"/><path d="M1040 530.15H1043M1040 487.95H1043M1040 445.75H1043M1040 403.55H1043M1040 361.35H1043M1040 319.15H1043M1040 276.95H1043M1040 234.75H1043M1040 192.55H1043M1040 150.35H1043M1040 108.15H1043M1040 65.95H1043" stroke="#4f525e" stroke-width="1" fill="none"/><path d="M96.0 548V551M179.5 548V551M267.0 548V551M354.5 548V551M438.0 548V551M526.5 548V551M612.5 548V551M695.5 548V551M784.5 548V551M869.5 548V551M954.5 548V551M1025.0 548V551" stroke="#4f525e" stroke-width="1" fill="none"/><path d="M285 34.3L288.5 37.3L292 34.3" stroke="#3a3d48" stroke-width="1.1" fill="none"/><path d="M124.4 68.7L127.1 71.3L129.8 68.7" stroke="#4a4d57" stroke-width="1.4" fill="none"/><path d="M11 19.5H14.5" stroke="#c4c6cc" stroke-width="1" fill="none"/><g stroke="#3a3d48" stroke-width="1.1" fill="none"><rect x="311.5" y="30.5" width="4.2" height="12"/><path d="M313.6 27.3V30.5M313.6 42.5V45.8"/><rect x="318.5" y="33.3" width="4.2" height="6.4"/><path d="M320.6 30V33.3M320.6 39.7V43"/></g><g stroke="#3a3d48" stroke-width="1.1" fill="none" stroke-linecap="round"><path d="M355 30.2C354.6 28.4 350.4 28 350.4 31.5V40.5C350.4 44 346 44 345.2 41.6M347.2 34.5H354"/><path d="M352.6 39.2L357 43.6M357 39.2L352.6 43.6"/></g><g stroke="#9a9da4" stroke-width="1" fill="none" shape-rendering="crispEdges"><rect x="29.5" y="65.5" width="10" height="10"/><path d="M34.5 65.5V75.5M29.5 70.5H39.5"/></g><g stroke="#3a3d48" stroke-width="1.1" fill="none" stroke-linejoin="round"><path d="M1029.94 30.31 L1030.87 29.69 L1031.49 27.36 L1033.51 27.36 L1034.13 29.69 L1035.06 30.31 L1035.06 30.31 L1036.16 30.53 L1038.25 29.32 L1039.68 30.75 L1038.47 32.84 L1038.69 33.94 L1038.69 33.94 L1039.31 34.87 L1041.64 35.49 L1041.64 37.51 L1039.31 38.13 L1038.69 39.06 L1038.69 39.06 L1038.47 40.16 L1039.68 42.25 L1038.25 43.68 L1036.16 42.47 L1035.06 42.69 L1035.06 42.69 L1034.13 43.31 L1033.51 45.64 L1031.49 45.64 L1030.87 43.31 L1029.94 42.69 L1029.94 42.69 L1028.84 42.47 L1026.75 43.68 L1025.32 42.25 L1026.53 40.16 L1026.31 39.06 L1026.31 39.06 L1025.69 38.13 L1023.36 37.51 L1023.36 35.49 L1025.69 34.87 L1026.31 33.94 L1026.31 33.94 L1026.53 32.84 L1025.32 30.75 L1026.75 29.32 L1028.84 30.53 L1029.94 30.31Z"/><circle cx="1032.5" cy="36.5" r="2.3"/></g><g stroke="#3a3d48" stroke-width="1.2" fill="none" stroke-linejoin="round"><path d="M1060.2 30.6H1062.6L1064.4 28.6H1070.2L1072 30.6H1074.4Q1076.4 30.6 1076.4 32.6V41.4Q1076.4 43.4 1074.4 43.4H1060.2Q1058.2 43.4 1058.2 41.4V32.6Q1058.2 30.6 1060.2 30.6Z"/><circle cx="1067.2" cy="36.8" r="3.8"/></g><g stroke="#23262f" stroke-width="1.2" fill="none"><circle cx="1060.6" cy="559.5" r="4.3"/><path d="M1065.00 559.50L1067.40 559.50M1063.71 562.61L1065.41 564.31M1060.60 563.90L1060.60 566.30M1057.49 562.61L1055.79 564.31M1056.20 559.50L1053.80 559.50M1057.49 556.39L1055.79 554.69M1060.60 555.10L1060.60 552.70M1063.71 556.39L1065.41 554.69"/></g><rect x="10" y="498" width="8" height="24" rx="3" fill="#2196f3"/><path d="M13 507.3L15.2 509.8L13 512.3" stroke="#fff" stroke-width="1.1" fill="none"/></svg>
<div class="txt">
<div class="tb" style="left:26px">1分</div>
<div class="tb" style="left:56px">15分</div>
<div class="tb" style="left:92px">30分</div>
<div class="tb" style="left:129px">1小時</div>
<div class="tb" style="left:171px">2小時</div>
<div class="tb act" style="left:214px">天</div>
<div class="tb" style="left:237px">周</div>
<div class="tb" style="left:260px">月</div>
<div class="lg" style="left:50px">UKOIL,</div><div class="lg" style="left:97.8px">1</div><div class="lg" style="left:106px">天</div>
<div class="lg" style="left:156px">開=</div><div class="lg r" style="left:177px">84.49</div>
<div class="lg" style="left:222px">高=</div><div class="lg r" style="left:243px">84.76</div>
<div class="lg" style="left:289px">低=</div><div class="lg r" style="left:309.5px">83.86</div>
<div class="lg" style="left:355.5px">收=</div><div class="lg r" style="left:376.5px">84.31</div>
<div class="lg r" style="left:421px;letter-spacing:0.2px">−0.03</div><div class="lg r" style="left:461.5px;letter-spacing:-0.3px">(−0.04%)</div>
<div class="pl" style="top:525.9px">30.00</div><div class="pl" style="top:483.6px">40.00</div><div class="pl" style="top:441.4px">50.00</div><div class="pl" style="top:399.2px">60.00</div><div class="pl" style="top:357.0px">70.00</div><div class="pl" style="top:314.8px">80.00</div><div class="pl" style="top:272.6px">90.00</div><div class="pl" style="top:230.4px">100.00</div><div class="pl" style="top:188.2px">110.00</div><div class="pl" style="top:146.0px">120.00</div><div class="pl" style="top:103.9px">130.00</div><div class="pl" style="top:61.7px">140.00</div>
<div class="tl b" style="left:75.5px">2021</div><div class="tl" style="left:159.0px">五月</div><div class="tl" style="left:246.5px">九月</div><div class="tl b" style="left:334.0px">2022</div><div class="tl" style="left:417.5px">五月</div><div class="tl" style="left:506.0px">九月</div><div class="tl b" style="left:592.0px">2023</div><div class="tl" style="left:675.0px">五月</div><div class="tl" style="left:764.0px">九月</div><div class="tl b" style="left:849.0px">2024</div><div class="tl" style="left:934.0px">五月</div><div class="tl" style="left:1004.5px">八月</div>
<div class="plab"><span>84.31</span></div>

</div>
</body></html>
